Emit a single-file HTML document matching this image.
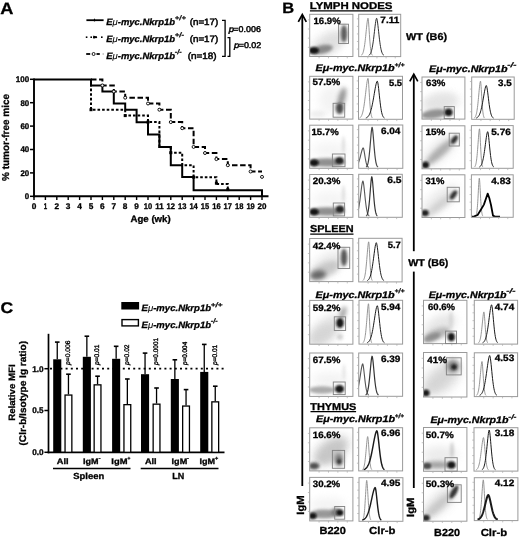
<!DOCTYPE html>
<html><head><meta charset="utf-8"><title>Figure</title>
<style>
html,body{margin:0;padding:0;background:#fff;width:520px;height:537px;overflow:hidden;}
svg{display:block;font-family:"Liberation Sans", sans-serif;text-rendering:geometricPrecision;will-change:transform;}
</style></head><body>
<svg width="520" height="537" viewBox="0 0 520 537" font-family='"Liberation Sans", sans-serif'>
<defs><clipPath id="c1"><rect x="309.7" y="14.3" width="43.20" height="42.20"/></clipPath><filter id="b0" x="-100%" y="-100%" width="300%" height="300%"><feGaussianBlur stdDeviation="4"/></filter><filter id="b1" x="-100%" y="-100%" width="300%" height="300%"><feGaussianBlur stdDeviation="3"/></filter><filter id="b2" x="-100%" y="-100%" width="300%" height="300%"><feGaussianBlur stdDeviation="1.8"/></filter><filter id="b3" x="-100%" y="-100%" width="300%" height="300%"><feGaussianBlur stdDeviation="1.2"/></filter><filter id="b4" x="-100%" y="-100%" width="300%" height="300%"><feGaussianBlur stdDeviation="1.5"/></filter><clipPath id="c2"><rect x="358.7" y="14.3" width="42.00" height="42.30"/></clipPath><clipPath id="c3"><rect x="309.7" y="76.3" width="43.20" height="42.80"/></clipPath><filter id="b5" x="-100%" y="-100%" width="300%" height="300%"><feGaussianBlur stdDeviation="2"/></filter><clipPath id="c4"><rect x="358.5" y="76.3" width="44.00" height="43.00"/></clipPath><clipPath id="c5"><rect x="309.7" y="125.2" width="43.20" height="43.10"/></clipPath><filter id="b6" x="-100%" y="-100%" width="300%" height="300%"><feGaussianBlur stdDeviation="1.0"/></filter><clipPath id="c6"><rect x="358.7" y="125.0" width="44.10" height="43.30"/></clipPath><clipPath id="c7"><rect x="309.7" y="174.5" width="43.20" height="42.80"/></clipPath><clipPath id="c8"><rect x="358.7" y="174.3" width="43.60" height="43.00"/></clipPath><clipPath id="c9"><rect x="309.7" y="238.5" width="43.20" height="43.10"/></clipPath><filter id="b7" x="-100%" y="-100%" width="300%" height="300%"><feGaussianBlur stdDeviation="2.5"/></filter><clipPath id="c10"><rect x="358.7" y="238.3" width="43.40" height="43.60"/></clipPath><clipPath id="c11"><rect x="309.7" y="300.4" width="43.20" height="43.80"/></clipPath><clipPath id="c12"><rect x="359.0" y="300.3" width="43.60" height="43.80"/></clipPath><clipPath id="c13"><rect x="309.7" y="353.0" width="43.20" height="43.40"/></clipPath><clipPath id="c14"><rect x="358.7" y="353.0" width="43.90" height="43.30"/></clipPath><clipPath id="c15"><rect x="309.7" y="427.8" width="43.20" height="43.10"/></clipPath><filter id="b8" x="-100%" y="-100%" width="300%" height="300%"><feGaussianBlur stdDeviation="1.4"/></filter><clipPath id="c16"><rect x="358.7" y="427.7" width="43.90" height="43.20"/></clipPath><clipPath id="c17"><rect x="309.7" y="477.4" width="43.20" height="43.50"/></clipPath><filter id="b9" x="-100%" y="-100%" width="300%" height="300%"><feGaussianBlur stdDeviation="1.1"/></filter><clipPath id="c18"><rect x="359.0" y="477.7" width="43.90" height="43.60"/></clipPath><clipPath id="c19"><rect x="422.0" y="77.0" width="42.90" height="42.10"/></clipPath><clipPath id="c20"><rect x="471.7" y="77.0" width="42.50" height="42.30"/></clipPath><clipPath id="c21"><rect x="422.0" y="125.8" width="42.90" height="43.00"/></clipPath><filter id="b10" x="-100%" y="-100%" width="300%" height="300%"><feGaussianBlur stdDeviation="2.2"/></filter><clipPath id="c22"><rect x="471.4" y="125.6" width="41.80" height="42.70"/></clipPath><clipPath id="c23"><rect x="422.0" y="174.8" width="42.90" height="42.70"/></clipPath><clipPath id="c24"><rect x="471.4" y="174.8" width="41.80" height="42.50"/></clipPath><clipPath id="c25"><rect x="423.5" y="300.3" width="43.40" height="43.30"/></clipPath><clipPath id="c26"><rect x="474.3" y="300.3" width="43.30" height="43.80"/></clipPath><clipPath id="c27"><rect x="423.5" y="352.5" width="43.40" height="44.50"/></clipPath><clipPath id="c28"><rect x="474.3" y="352.8" width="43.30" height="43.80"/></clipPath><clipPath id="c29"><rect x="423.5" y="427.5" width="43.40" height="43.80"/></clipPath><clipPath id="c30"><rect x="474.0" y="427.7" width="43.90" height="43.40"/></clipPath><clipPath id="c31"><rect x="423.5" y="477.6" width="43.40" height="43.60"/></clipPath><filter id="b11" x="-100%" y="-100%" width="300%" height="300%"><feGaussianBlur stdDeviation="1.3"/></filter><clipPath id="c32"><rect x="474.3" y="477.7" width="43.60" height="42.90"/></clipPath></defs>
<text x="0.17" y="13.50" font-size="16.5" font-weight="bold" font-style="normal" fill="#000" stroke="#000" stroke-width="0.3" textLength="13.15" lengthAdjust="spacingAndGlyphs">A</text>
<line x1="86.40" y1="20.20" x2="103.60" y2="20.20" stroke="#000" stroke-width="1.8" />
<line x1="94.50" y1="18.70" x2="94.50" y2="21.40" stroke="#000" stroke-width="1.2" />
<rect x="85.80" y="36.40" width="1.60" height="1.60" fill="#000" stroke="none" stroke-width="1" />
<rect x="90.40" y="36.40" width="1.60" height="1.60" fill="#000" stroke="none" stroke-width="1" />
<rect x="101.00" y="36.40" width="1.60" height="1.60" fill="#000" stroke="none" stroke-width="1" />
<path d="M93.5 35.6 L97.5 37.2 L93.5 38.800000000000004 Z" fill="#000"/>
<line x1="93.00" y1="37.20" x2="97.00" y2="37.20" stroke="#000" stroke-width="1.8" />
<line x1="86.20" y1="54.00" x2="90.20" y2="54.00" stroke="#000" stroke-width="1.8" />
<line x1="96.50" y1="54.00" x2="99.80" y2="54.00" stroke="#000" stroke-width="1.8" />
<circle cx="93.6" cy="54.0" r="1.5" fill="#fff" stroke="#000" stroke-width="0.9"/>
<line x1="102.50" y1="54.00" x2="104.00" y2="54.00" stroke="#bbb" stroke-width="1.4" />
<text x="106.24" y="24.90" font-size="9.2" font-weight="bold" font-style="italic" stroke="#000" stroke-width="0.3" textLength="68.82" lengthAdjust="spacingAndGlyphs">E<tspan font-weight="normal" stroke-width="0.1">&#956;</tspan>-myc.Nkrp1b</text>
<text x="174.84" y="20.30" font-size="6.6" font-weight="bold" font-style="italic" stroke="#000" stroke-width="0.21" textLength="11.03" lengthAdjust="spacingAndGlyphs">+/+</text>
<text x="106.24" y="41.50" font-size="9.2" font-weight="bold" font-style="italic" stroke="#000" stroke-width="0.3" textLength="68.82" lengthAdjust="spacingAndGlyphs">E<tspan font-weight="normal" stroke-width="0.1">&#956;</tspan>-myc.Nkrp1b</text>
<text x="174.84" y="36.90" font-size="6.6" font-weight="bold" font-style="italic" stroke="#000" stroke-width="0.21" textLength="9.23" lengthAdjust="spacingAndGlyphs">+/-</text>
<text x="106.24" y="58.50" font-size="9.2" font-weight="bold" font-style="italic" stroke="#000" stroke-width="0.3" textLength="68.82" lengthAdjust="spacingAndGlyphs">E<tspan font-weight="normal" stroke-width="0.1">&#956;</tspan>-myc.Nkrp1b</text>
<text x="174.84" y="53.90" font-size="6.6" font-weight="bold" font-style="italic" stroke="#000" stroke-width="0.21" textLength="6.93" lengthAdjust="spacingAndGlyphs">-/-</text>
<text x="189.74" y="24.90" font-size="9.2" font-weight="normal" font-style="normal" fill="#000" stroke="#000" stroke-width="0.5" textLength="28.52" lengthAdjust="spacingAndGlyphs">(n=17)</text>
<text x="189.74" y="41.50" font-size="9.2" font-weight="normal" font-style="normal" fill="#000" stroke="#000" stroke-width="0.5" textLength="28.52" lengthAdjust="spacingAndGlyphs">(n=17)</text>
<text x="187.74" y="58.50" font-size="9.2" font-weight="normal" font-style="normal" fill="#000" stroke="#000" stroke-width="0.5" textLength="28.92" lengthAdjust="spacingAndGlyphs">(n=18)</text>
<path d="M222 20.4 H225.1 V56.3 H222" fill="none" stroke="#000" stroke-width="1.3"/>
<path d="M227.5 37.7 H229.8 V56.3 H227.5" fill="none" stroke="#000" stroke-width="1.3"/>
<text x="228.68" y="31.90" font-size="8.4" font-weight="normal" font-style="italic" fill="#000" stroke="#000" stroke-width="0.45" textLength="5.34" lengthAdjust="spacingAndGlyphs">p</text>
<text x="233.38" y="31.90" font-size="8.4" font-weight="normal" font-style="normal" fill="#000" stroke="#000" stroke-width="0.45" textLength="27.54" lengthAdjust="spacingAndGlyphs">=0.006</text>
<text x="233.98" y="48.30" font-size="8.4" font-weight="normal" font-style="italic" fill="#000" stroke="#000" stroke-width="0.45" textLength="5.34" lengthAdjust="spacingAndGlyphs">p</text>
<text x="238.68" y="48.30" font-size="8.4" font-weight="normal" font-style="normal" fill="#000" stroke="#000" stroke-width="0.45" textLength="22.64" lengthAdjust="spacingAndGlyphs">=0.02</text>
<line x1="34.00" y1="78.60" x2="34.00" y2="197.30" stroke="#000" stroke-width="1.9" />
<line x1="33.00" y1="196.30" x2="268.50" y2="196.30" stroke="#000" stroke-width="1.9" />
<line x1="30.00" y1="196.30" x2="34.00" y2="196.30" stroke="#000" stroke-width="1.5" />
<text x="24.79" y="199.10" font-size="8.2" font-weight="bold" font-style="normal" fill="#000" stroke="#000" stroke-width="0.3" textLength="4.42" lengthAdjust="spacingAndGlyphs">0</text>
<line x1="30.00" y1="172.90" x2="34.00" y2="172.90" stroke="#000" stroke-width="1.5" />
<text x="20.39" y="175.70" font-size="8.2" font-weight="bold" font-style="normal" fill="#000" stroke="#000" stroke-width="0.3" textLength="8.82" lengthAdjust="spacingAndGlyphs">20</text>
<line x1="30.00" y1="149.50" x2="34.00" y2="149.50" stroke="#000" stroke-width="1.5" />
<text x="20.39" y="152.30" font-size="8.2" font-weight="bold" font-style="normal" fill="#000" stroke="#000" stroke-width="0.3" textLength="8.82" lengthAdjust="spacingAndGlyphs">40</text>
<line x1="30.00" y1="126.10" x2="34.00" y2="126.10" stroke="#000" stroke-width="1.5" />
<text x="20.39" y="128.90" font-size="8.2" font-weight="bold" font-style="normal" fill="#000" stroke="#000" stroke-width="0.3" textLength="8.82" lengthAdjust="spacingAndGlyphs">60</text>
<line x1="30.00" y1="102.70" x2="34.00" y2="102.70" stroke="#000" stroke-width="1.5" />
<text x="20.39" y="105.50" font-size="8.2" font-weight="bold" font-style="normal" fill="#000" stroke="#000" stroke-width="0.3" textLength="8.82" lengthAdjust="spacingAndGlyphs">80</text>
<line x1="30.00" y1="79.30" x2="34.00" y2="79.30" stroke="#000" stroke-width="1.5" />
<text x="15.79" y="82.10" font-size="8.2" font-weight="bold" font-style="normal" fill="#000" stroke="#000" stroke-width="0.3" textLength="13.42" lengthAdjust="spacingAndGlyphs">100</text>
<line x1="34.00" y1="196.30" x2="34.00" y2="200.00" stroke="#000" stroke-width="1.4" />
<text x="31.69" y="208.70" font-size="8.2" font-weight="bold" font-style="normal" fill="#000" stroke="#000" stroke-width="0.3" textLength="4.62" lengthAdjust="spacingAndGlyphs">0</text>
<line x1="45.40" y1="196.30" x2="45.40" y2="200.00" stroke="#000" stroke-width="1.4" />
<text x="43.69" y="208.70" font-size="8.2" font-weight="bold" font-style="normal" fill="#000" stroke="#000" stroke-width="0.3" textLength="3.42" lengthAdjust="spacingAndGlyphs">1</text>
<line x1="56.80" y1="196.30" x2="56.80" y2="200.00" stroke="#000" stroke-width="1.4" />
<text x="54.49" y="208.70" font-size="8.2" font-weight="bold" font-style="normal" fill="#000" stroke="#000" stroke-width="0.3" textLength="4.62" lengthAdjust="spacingAndGlyphs">2</text>
<line x1="68.20" y1="196.30" x2="68.20" y2="200.00" stroke="#000" stroke-width="1.4" />
<text x="65.89" y="208.70" font-size="8.2" font-weight="bold" font-style="normal" fill="#000" stroke="#000" stroke-width="0.3" textLength="4.62" lengthAdjust="spacingAndGlyphs">3</text>
<line x1="79.60" y1="196.30" x2="79.60" y2="200.00" stroke="#000" stroke-width="1.4" />
<text x="77.29" y="208.70" font-size="8.2" font-weight="bold" font-style="normal" fill="#000" stroke="#000" stroke-width="0.3" textLength="4.62" lengthAdjust="spacingAndGlyphs">4</text>
<line x1="91.00" y1="196.30" x2="91.00" y2="200.00" stroke="#000" stroke-width="1.4" />
<text x="88.69" y="208.70" font-size="8.2" font-weight="bold" font-style="normal" fill="#000" stroke="#000" stroke-width="0.3" textLength="4.62" lengthAdjust="spacingAndGlyphs">5</text>
<line x1="102.40" y1="196.30" x2="102.40" y2="200.00" stroke="#000" stroke-width="1.4" />
<text x="100.09" y="208.70" font-size="8.2" font-weight="bold" font-style="normal" fill="#000" stroke="#000" stroke-width="0.3" textLength="4.62" lengthAdjust="spacingAndGlyphs">6</text>
<line x1="113.80" y1="196.30" x2="113.80" y2="200.00" stroke="#000" stroke-width="1.4" />
<text x="111.49" y="208.70" font-size="8.2" font-weight="bold" font-style="normal" fill="#000" stroke="#000" stroke-width="0.3" textLength="4.62" lengthAdjust="spacingAndGlyphs">7</text>
<line x1="125.20" y1="196.30" x2="125.20" y2="200.00" stroke="#000" stroke-width="1.4" />
<text x="122.89" y="208.70" font-size="8.2" font-weight="bold" font-style="normal" fill="#000" stroke="#000" stroke-width="0.3" textLength="4.62" lengthAdjust="spacingAndGlyphs">8</text>
<line x1="136.60" y1="196.30" x2="136.60" y2="200.00" stroke="#000" stroke-width="1.4" />
<text x="134.29" y="208.70" font-size="8.2" font-weight="bold" font-style="normal" fill="#000" stroke="#000" stroke-width="0.3" textLength="4.62" lengthAdjust="spacingAndGlyphs">9</text>
<line x1="148.00" y1="196.30" x2="148.00" y2="200.00" stroke="#000" stroke-width="1.4" />
<text x="143.79" y="208.70" font-size="8.2" font-weight="bold" font-style="normal" fill="#000" stroke="#000" stroke-width="0.3" textLength="8.42" lengthAdjust="spacingAndGlyphs">10</text>
<line x1="159.40" y1="196.30" x2="159.40" y2="200.00" stroke="#000" stroke-width="1.4" />
<text x="155.19" y="208.70" font-size="8.2" font-weight="bold" font-style="normal" fill="#000" stroke="#000" stroke-width="0.3" textLength="8.42" lengthAdjust="spacingAndGlyphs">11</text>
<line x1="170.80" y1="196.30" x2="170.80" y2="200.00" stroke="#000" stroke-width="1.4" />
<text x="166.59" y="208.70" font-size="8.2" font-weight="bold" font-style="normal" fill="#000" stroke="#000" stroke-width="0.3" textLength="8.42" lengthAdjust="spacingAndGlyphs">12</text>
<line x1="182.20" y1="196.30" x2="182.20" y2="200.00" stroke="#000" stroke-width="1.4" />
<text x="177.99" y="208.70" font-size="8.2" font-weight="bold" font-style="normal" fill="#000" stroke="#000" stroke-width="0.3" textLength="8.42" lengthAdjust="spacingAndGlyphs">13</text>
<line x1="193.60" y1="196.30" x2="193.60" y2="200.00" stroke="#000" stroke-width="1.4" />
<text x="189.39" y="208.70" font-size="8.2" font-weight="bold" font-style="normal" fill="#000" stroke="#000" stroke-width="0.3" textLength="8.42" lengthAdjust="spacingAndGlyphs">14</text>
<line x1="205.00" y1="196.30" x2="205.00" y2="200.00" stroke="#000" stroke-width="1.4" />
<text x="200.79" y="208.70" font-size="8.2" font-weight="bold" font-style="normal" fill="#000" stroke="#000" stroke-width="0.3" textLength="8.42" lengthAdjust="spacingAndGlyphs">15</text>
<line x1="216.40" y1="196.30" x2="216.40" y2="200.00" stroke="#000" stroke-width="1.4" />
<text x="212.19" y="208.70" font-size="8.2" font-weight="bold" font-style="normal" fill="#000" stroke="#000" stroke-width="0.3" textLength="8.42" lengthAdjust="spacingAndGlyphs">16</text>
<line x1="227.80" y1="196.30" x2="227.80" y2="200.00" stroke="#000" stroke-width="1.4" />
<text x="223.59" y="208.70" font-size="8.2" font-weight="bold" font-style="normal" fill="#000" stroke="#000" stroke-width="0.3" textLength="8.42" lengthAdjust="spacingAndGlyphs">17</text>
<line x1="239.20" y1="196.30" x2="239.20" y2="200.00" stroke="#000" stroke-width="1.4" />
<text x="234.99" y="208.70" font-size="8.2" font-weight="bold" font-style="normal" fill="#000" stroke="#000" stroke-width="0.3" textLength="8.42" lengthAdjust="spacingAndGlyphs">18</text>
<line x1="250.60" y1="196.30" x2="250.60" y2="200.00" stroke="#000" stroke-width="1.4" />
<text x="246.39" y="208.70" font-size="8.2" font-weight="bold" font-style="normal" fill="#000" stroke="#000" stroke-width="0.3" textLength="8.42" lengthAdjust="spacingAndGlyphs">19</text>
<line x1="262.00" y1="196.30" x2="262.00" y2="200.00" stroke="#000" stroke-width="1.4" />
<text x="257.54" y="208.70" font-size="8.2" font-weight="bold" font-style="normal" fill="#000" stroke="#000" stroke-width="0.3" textLength="8.92" lengthAdjust="spacingAndGlyphs">20</text>
<text x="130.53" y="221.70" font-size="9.3" font-weight="bold" font-style="normal" fill="#000" stroke="#000" stroke-width="0.3" textLength="40.13" lengthAdjust="spacingAndGlyphs">Age (wk)</text>
<text transform="translate(8.70,180.90) rotate(-90)" x="0" y="0" font-size="10" font-weight="bold" font-style="normal" stroke="#000" stroke-width="0.3" textLength="86.90" lengthAdjust="spacingAndGlyphs">% tumor-free mice</text>
<path d="M34.00 79.40 L91.00 79.40 L91.00 85.40 L102.40 85.40 L102.40 91.50 L113.80 91.50 L113.80 103.50 L125.20 103.50 L125.20 109.70 L136.60 109.70 L136.60 122.20 L148.00 122.20 L148.00 134.40 L159.40 134.40 L159.40 146.90 L170.80 146.90 L170.80 165.30 L182.20 165.30 L182.20 177.00 L193.60 177.00 L193.60 190.20 L262.00 190.20 L262.00 196.00" fill="none" stroke="#000" stroke-width="2"/>
<path d="M91.00 79.40 L91.00 109.70 L125.20 109.70 L125.20 115.60 L148.00 115.60 L148.00 122.10 L159.40 122.10 L159.40 146.90 L170.80 146.90 L170.80 152.70 L182.20 152.70 L182.20 165.30 L193.60 165.30 L193.60 177.20 L216.40 177.20 L216.40 183.90 L227.80 183.90 L227.80 190.20" fill="none" stroke="#000" stroke-width="2" stroke-dasharray="2.6 2"/>
<rect x="89.50" y="108.20" width="3.00" height="3.00" fill="#000" stroke="none" stroke-width="1" />
<rect x="123.70" y="114.10" width="3.00" height="3.00" fill="#000" stroke="none" stroke-width="1" />
<rect x="146.50" y="120.60" width="3.00" height="3.00" fill="#000" stroke="none" stroke-width="1" />
<rect x="169.30" y="151.20" width="3.00" height="3.00" fill="#000" stroke="none" stroke-width="1" />
<rect x="192.10" y="175.70" width="3.00" height="3.00" fill="#000" stroke="none" stroke-width="1" />
<rect x="214.90" y="181.70" width="3.00" height="3.00" fill="#000" stroke="none" stroke-width="1" />
<rect x="226.30" y="188.10" width="3.00" height="3.00" fill="#000" stroke="none" stroke-width="1" />
<path d="M91.00 79.40 L102.40 79.40 L102.40 85.40 L113.80 85.40 L113.80 91.50 L125.20 91.50 L125.20 97.70 L148.00 97.70 L148.00 103.50 L159.40 103.50 L159.40 109.70 L170.80 109.70 L170.80 122.10 L182.20 122.10 L182.20 128.20 L193.60 128.20 L193.60 146.90 L205.00 146.90 L205.00 153.00 L216.40 153.00 L216.40 159.10 L227.80 159.10 L227.80 165.20 L250.60 165.20 L250.60 171.50 L262.00 171.50" fill="none" stroke="#000" stroke-width="2" stroke-dasharray="5.5 2.6"/>
<circle cx="102.40" cy="85.40" r="1.5" fill="#fff" stroke="#000" stroke-width="0.9"/>
<circle cx="113.80" cy="91.50" r="1.5" fill="#fff" stroke="#000" stroke-width="0.9"/>
<circle cx="125.20" cy="97.70" r="1.5" fill="#fff" stroke="#000" stroke-width="0.9"/>
<circle cx="148.00" cy="103.50" r="1.5" fill="#fff" stroke="#000" stroke-width="0.9"/>
<circle cx="159.40" cy="109.70" r="1.5" fill="#fff" stroke="#000" stroke-width="0.9"/>
<circle cx="170.80" cy="122.10" r="1.5" fill="#fff" stroke="#000" stroke-width="0.9"/>
<circle cx="182.20" cy="128.20" r="1.5" fill="#fff" stroke="#000" stroke-width="0.9"/>
<circle cx="193.60" cy="146.90" r="1.5" fill="#fff" stroke="#000" stroke-width="0.9"/>
<circle cx="205.00" cy="153.00" r="1.5" fill="#fff" stroke="#000" stroke-width="0.9"/>
<circle cx="216.40" cy="159.10" r="1.5" fill="#fff" stroke="#000" stroke-width="0.9"/>
<circle cx="227.80" cy="165.20" r="1.5" fill="#fff" stroke="#000" stroke-width="0.9"/>
<circle cx="250.60" cy="171.50" r="1.5" fill="#fff" stroke="#000" stroke-width="0.9"/>
<circle cx="262.00" cy="176.90" r="1.5" fill="#fff" stroke="#000" stroke-width="0.9"/>
<text x="0.42" y="313.20" font-size="15.5" font-weight="bold" font-style="normal" fill="#000" stroke="#000" stroke-width="0.3" textLength="12.65" lengthAdjust="spacingAndGlyphs">C</text>
<rect x="121.30" y="302.00" width="17.80" height="7.50" fill="#000" stroke="none" stroke-width="1" />
<rect x="122.00" y="319.60" width="16.40" height="6.30" fill="#fff" stroke="#000" stroke-width="1.4" />
<text x="141.54" y="311.40" font-size="9.2" font-weight="bold" font-style="italic" stroke="#000" stroke-width="0.3" textLength="69.52" lengthAdjust="spacingAndGlyphs">E<tspan font-weight="normal" stroke-width="0.1">&#956;</tspan>-myc.Nkrp1b</text>
<text x="210.84" y="306.80" font-size="6.6" font-weight="bold" font-style="italic" stroke="#000" stroke-width="0.21" textLength="11.73" lengthAdjust="spacingAndGlyphs">+/+</text>
<text x="141.54" y="327.70" font-size="9.2" font-weight="bold" font-style="italic" stroke="#000" stroke-width="0.3" textLength="69.52" lengthAdjust="spacingAndGlyphs">E<tspan font-weight="normal" stroke-width="0.1">&#956;</tspan>-myc.Nkrp1b</text>
<text x="210.84" y="323.10" font-size="6.6" font-weight="bold" font-style="italic" stroke="#000" stroke-width="0.21" textLength="6.93" lengthAdjust="spacingAndGlyphs">-/-</text>
<line x1="50.00" y1="368.70" x2="226.00" y2="368.70" stroke="#000" stroke-width="1.7" stroke-dasharray="2 3.2"/>
<line x1="48.50" y1="333.80" x2="48.50" y2="453.30" stroke="#000" stroke-width="1.7" />
<line x1="44.40" y1="452.30" x2="48.50" y2="452.30" stroke="#000" stroke-width="1.5" />
<text x="32.19" y="455.20" font-size="8.3" font-weight="bold" font-style="normal" fill="#000" stroke="#000" stroke-width="0.3" textLength="11.43" lengthAdjust="spacingAndGlyphs">0.0</text>
<line x1="44.40" y1="410.50" x2="48.50" y2="410.50" stroke="#000" stroke-width="1.5" />
<text x="32.19" y="413.40" font-size="8.3" font-weight="bold" font-style="normal" fill="#000" stroke="#000" stroke-width="0.3" textLength="11.43" lengthAdjust="spacingAndGlyphs">0.5</text>
<line x1="44.40" y1="368.70" x2="48.50" y2="368.70" stroke="#000" stroke-width="1.5" />
<text x="32.19" y="371.60" font-size="8.3" font-weight="bold" font-style="normal" fill="#000" stroke="#000" stroke-width="0.3" textLength="11.43" lengthAdjust="spacingAndGlyphs">1.0</text>
<line x1="47.60" y1="452.30" x2="224.50" y2="452.30" stroke="#000" stroke-width="1.8" />
<line x1="57.25" y1="359.30" x2="57.25" y2="342.10" stroke="#000" stroke-width="1.3" />
<line x1="54.95" y1="342.10" x2="59.55" y2="342.10" stroke="#000" stroke-width="1.6" />
<rect x="53.20" y="359.30" width="8.10" height="93.00" fill="#000" stroke="none" stroke-width="1" />
<line x1="68.45" y1="394.40" x2="68.45" y2="374.20" stroke="#000" stroke-width="1.3" />
<line x1="66.15" y1="374.20" x2="70.75" y2="374.20" stroke="#000" stroke-width="1.6" />
<rect x="65.05" y="395.05" width="6.80" height="57.25" fill="#fff" stroke="#000" stroke-width="1.3" />
<text transform="translate(69.80,365.0) rotate(-90)" font-size="6.6" stroke="#000" stroke-width="0.35" textLength="24.50" lengthAdjust="spacingAndGlyphs"><tspan font-style="italic">p</tspan>=0.006</text>
<line x1="86.85" y1="356.80" x2="86.85" y2="336.20" stroke="#000" stroke-width="1.3" />
<line x1="84.55" y1="336.20" x2="89.15" y2="336.20" stroke="#000" stroke-width="1.6" />
<rect x="82.80" y="356.80" width="8.10" height="95.50" fill="#000" stroke="none" stroke-width="1" />
<line x1="97.55" y1="384.20" x2="97.55" y2="376.20" stroke="#000" stroke-width="1.3" />
<line x1="95.25" y1="376.20" x2="99.85" y2="376.20" stroke="#000" stroke-width="1.6" />
<rect x="94.15" y="384.85" width="6.80" height="67.45" fill="#fff" stroke="#000" stroke-width="1.3" />
<text transform="translate(98.90,365.0) rotate(-90)" font-size="6.6" stroke="#000" stroke-width="0.35" textLength="20.40" lengthAdjust="spacingAndGlyphs"><tspan font-style="italic">p</tspan>=0.01</text>
<line x1="116.15" y1="358.80" x2="116.15" y2="346.30" stroke="#000" stroke-width="1.3" />
<line x1="113.85" y1="346.30" x2="118.45" y2="346.30" stroke="#000" stroke-width="1.6" />
<rect x="112.10" y="358.80" width="8.10" height="93.50" fill="#000" stroke="none" stroke-width="1" />
<line x1="127.35" y1="404.00" x2="127.35" y2="379.00" stroke="#000" stroke-width="1.3" />
<line x1="125.05" y1="379.00" x2="129.65" y2="379.00" stroke="#000" stroke-width="1.6" />
<rect x="123.95" y="404.65" width="6.80" height="47.65" fill="#fff" stroke="#000" stroke-width="1.3" />
<text transform="translate(128.70,365.0) rotate(-90)" font-size="6.6" stroke="#000" stroke-width="0.35" textLength="20.60" lengthAdjust="spacingAndGlyphs"><tspan font-style="italic">p</tspan>=0.02</text>
<line x1="145.05" y1="374.20" x2="145.05" y2="353.10" stroke="#000" stroke-width="1.3" />
<line x1="142.75" y1="353.10" x2="147.35" y2="353.10" stroke="#000" stroke-width="1.6" />
<rect x="141.00" y="374.20" width="8.10" height="78.10" fill="#000" stroke="none" stroke-width="1" />
<line x1="156.55" y1="403.50" x2="156.55" y2="388.00" stroke="#000" stroke-width="1.3" />
<line x1="154.25" y1="388.00" x2="158.85" y2="388.00" stroke="#000" stroke-width="1.6" />
<rect x="153.15" y="404.15" width="6.80" height="48.15" fill="#fff" stroke="#000" stroke-width="1.3" />
<text transform="translate(157.90,365.0) rotate(-90)" font-size="6.6" stroke="#000" stroke-width="0.35" textLength="27.20" lengthAdjust="spacingAndGlyphs"><tspan font-style="italic">p</tspan>=0.0001</text>
<line x1="174.85" y1="379.00" x2="174.85" y2="359.80" stroke="#000" stroke-width="1.3" />
<line x1="172.55" y1="359.80" x2="177.15" y2="359.80" stroke="#000" stroke-width="1.6" />
<rect x="170.80" y="379.00" width="8.10" height="73.30" fill="#000" stroke="none" stroke-width="1" />
<line x1="186.05" y1="405.40" x2="186.05" y2="389.60" stroke="#000" stroke-width="1.3" />
<line x1="183.75" y1="389.60" x2="188.35" y2="389.60" stroke="#000" stroke-width="1.6" />
<rect x="182.65" y="406.05" width="6.80" height="46.25" fill="#fff" stroke="#000" stroke-width="1.3" />
<text transform="translate(187.40,365.0) rotate(-90)" font-size="6.6" stroke="#000" stroke-width="0.35" textLength="23.20" lengthAdjust="spacingAndGlyphs"><tspan font-style="italic">p</tspan>=0.004</text>
<line x1="204.25" y1="371.90" x2="204.25" y2="344.40" stroke="#000" stroke-width="1.3" />
<line x1="201.95" y1="344.40" x2="206.55" y2="344.40" stroke="#000" stroke-width="1.6" />
<rect x="200.20" y="371.90" width="8.10" height="80.40" fill="#000" stroke="none" stroke-width="1" />
<line x1="215.25" y1="401.20" x2="215.25" y2="386.20" stroke="#000" stroke-width="1.3" />
<line x1="212.95" y1="386.20" x2="217.55" y2="386.20" stroke="#000" stroke-width="1.6" />
<rect x="211.85" y="401.85" width="6.80" height="50.45" fill="#fff" stroke="#000" stroke-width="1.3" />
<text transform="translate(216.60,365.0) rotate(-90)" font-size="6.6" stroke="#000" stroke-width="0.35" textLength="20.20" lengthAdjust="spacingAndGlyphs"><tspan font-style="italic">p</tspan>=0.01</text>
<text x="56.80" y="463.80" font-size="8.1" font-weight="bold" font-style="normal" fill="#000" stroke="#000" stroke-width="0.3" textLength="11.81" lengthAdjust="spacingAndGlyphs">All</text>
<text x="83.09" y="463.80" font-size="8.1" font-weight="bold" font-style="normal" fill="#000" stroke="#000" stroke-width="0.3" textLength="15.51" lengthAdjust="spacingAndGlyphs">IgM</text>
<text x="98.54" y="459.60" font-size="5.2" font-weight="bold" font-style="normal" fill="#000" stroke="#000" stroke-width="0.3" textLength="2.12" lengthAdjust="spacingAndGlyphs">-</text>
<text x="111.39" y="463.80" font-size="8.1" font-weight="bold" font-style="normal" fill="#000" stroke="#000" stroke-width="0.3" textLength="16.11" lengthAdjust="spacingAndGlyphs">IgM</text>
<text x="127.44" y="460.00" font-size="5.2" font-weight="bold" font-style="normal" fill="#000" stroke="#000" stroke-width="0.3" textLength="2.82" lengthAdjust="spacingAndGlyphs">+</text>
<text x="144.90" y="463.80" font-size="8.1" font-weight="bold" font-style="normal" fill="#000" stroke="#000" stroke-width="0.3" textLength="11.71" lengthAdjust="spacingAndGlyphs">All</text>
<text x="171.59" y="463.80" font-size="8.1" font-weight="bold" font-style="normal" fill="#000" stroke="#000" stroke-width="0.3" textLength="15.61" lengthAdjust="spacingAndGlyphs">IgM</text>
<text x="187.14" y="459.60" font-size="5.2" font-weight="bold" font-style="normal" fill="#000" stroke="#000" stroke-width="0.3" textLength="1.92" lengthAdjust="spacingAndGlyphs">-</text>
<text x="199.50" y="463.80" font-size="8.1" font-weight="bold" font-style="normal" fill="#000" stroke="#000" stroke-width="0.3" textLength="15.61" lengthAdjust="spacingAndGlyphs">IgM</text>
<text x="215.04" y="460.00" font-size="5.2" font-weight="bold" font-style="normal" fill="#000" stroke="#000" stroke-width="0.3" textLength="3.22" lengthAdjust="spacingAndGlyphs">+</text>
<line x1="53.00" y1="468.50" x2="130.50" y2="468.50" stroke="#000" stroke-width="1.6" />
<line x1="140.70" y1="468.50" x2="218.50" y2="468.50" stroke="#000" stroke-width="1.6" />
<text x="73.26" y="478.90" font-size="8.8" font-weight="bold" font-style="normal" fill="#000" stroke="#000" stroke-width="0.3" textLength="30.88" lengthAdjust="spacingAndGlyphs">Spleen</text>
<text x="172.16" y="479.00" font-size="8.8" font-weight="bold" font-style="normal" fill="#000" stroke="#000" stroke-width="0.3" textLength="11.98" lengthAdjust="spacingAndGlyphs">LN</text>
<text transform="translate(14.60,420.86) rotate(-90)" x="0" y="0" font-size="9.2" font-weight="bold" font-style="normal" stroke="#000" stroke-width="0.3" textLength="56.52" lengthAdjust="spacingAndGlyphs">Relative MFI</text>
<text transform="translate(26.40,445.48) rotate(-90)" x="0" y="0" font-size="9.6" font-weight="bold" font-style="normal" stroke="#000" stroke-width="0.3" textLength="104.46" lengthAdjust="spacingAndGlyphs">(Clr-b/Isotype Ig ratio)</text>
<text x="282.15" y="12.50" font-size="15" font-weight="bold" font-style="normal" fill="#000" stroke="#000" stroke-width="0.3" textLength="11.90" lengthAdjust="spacingAndGlyphs">B</text>
<text x="309.71" y="8.70" font-size="9.8" font-weight="bold" font-style="normal" fill="#000" stroke="#000" stroke-width="0.3" textLength="82.78" lengthAdjust="spacingAndGlyphs">LYMPH NODES</text>
<line x1="309.90" y1="10.80" x2="392.30" y2="10.80" stroke="#000" stroke-width="1.3" />
<text x="310.00" y="232.40" font-size="10" font-weight="bold" font-style="normal" fill="#000" stroke="#000" stroke-width="0.3" textLength="43.70" lengthAdjust="spacingAndGlyphs">SPLEEN</text>
<line x1="310.20" y1="234.20" x2="353.50" y2="234.20" stroke="#000" stroke-width="1.3" />
<text x="310.31" y="410.10" font-size="9.8" font-weight="bold" font-style="normal" fill="#000" stroke="#000" stroke-width="0.3" textLength="45.98" lengthAdjust="spacingAndGlyphs">THYMUS</text>
<line x1="310.50" y1="411.60" x2="356.10" y2="411.60" stroke="#000" stroke-width="1.3" />
<line x1="302.30" y1="15.20" x2="302.30" y2="486.00" stroke="#000" stroke-width="1.8" />
<path d="M298.30 21.80 L302.30 14.60 L306.30 21.80" fill="none" stroke="#000" stroke-width="1.7" stroke-linejoin="miter"/>
<line x1="413.80" y1="74.80" x2="413.80" y2="488.00" stroke="#000" stroke-width="1.8" />
<path d="M409.80 81.40 L413.80 74.20 L417.80 81.40" fill="none" stroke="#000" stroke-width="1.7" stroke-linejoin="miter"/>
<rect x="410.00" y="251.20" width="10.00" height="20.40" fill="#fff" stroke="none" stroke-width="1" />
<text x="406.10" y="39.90" font-size="10" font-weight="bold" font-style="normal" fill="#000" stroke="#000" stroke-width="0.3" textLength="41.00" lengthAdjust="spacingAndGlyphs">WT (B6)</text>
<text x="408.20" y="265.60" font-size="10" font-weight="bold" font-style="normal" fill="#000" stroke="#000" stroke-width="0.3" textLength="40.20" lengthAdjust="spacingAndGlyphs">WT (B6)</text>
<text x="315.62" y="71.30" font-size="9.6" font-weight="bold" font-style="italic" stroke="#000" stroke-width="0.3" textLength="79.06" lengthAdjust="spacingAndGlyphs">E&#956;-myc.Nkrp1b</text>
<text x="394.44" y="66.70" font-size="6.6" font-weight="bold" font-style="italic" stroke="#000" stroke-width="0.21" textLength="10.13" lengthAdjust="spacingAndGlyphs">+/+</text>
<text x="429.02" y="71.80" font-size="9.6" font-weight="bold" font-style="italic" stroke="#000" stroke-width="0.3" textLength="78.56" lengthAdjust="spacingAndGlyphs">E&#956;-myc.Nkrp1b</text>
<text x="507.34" y="67.20" font-size="6.6" font-weight="bold" font-style="italic" stroke="#000" stroke-width="0.21" textLength="9.23" lengthAdjust="spacingAndGlyphs">-/-</text>
<text x="315.62" y="297.80" font-size="9.6" font-weight="bold" font-style="italic" stroke="#000" stroke-width="0.3" textLength="79.06" lengthAdjust="spacingAndGlyphs">E&#956;-myc.Nkrp1b</text>
<text x="394.44" y="293.20" font-size="6.6" font-weight="bold" font-style="italic" stroke="#000" stroke-width="0.21" textLength="10.13" lengthAdjust="spacingAndGlyphs">+/+</text>
<text x="428.72" y="297.80" font-size="9.6" font-weight="bold" font-style="italic" stroke="#000" stroke-width="0.3" textLength="77.86" lengthAdjust="spacingAndGlyphs">E&#956;-myc.Nkrp1b</text>
<text x="506.34" y="293.20" font-size="6.6" font-weight="bold" font-style="italic" stroke="#000" stroke-width="0.21" textLength="9.33" lengthAdjust="spacingAndGlyphs">-/-</text>
<text x="316.12" y="422.40" font-size="9.6" font-weight="bold" font-style="italic" stroke="#000" stroke-width="0.3" textLength="78.86" lengthAdjust="spacingAndGlyphs">E&#956;-myc.Nkrp1b</text>
<text x="394.74" y="417.80" font-size="6.6" font-weight="bold" font-style="italic" stroke="#000" stroke-width="0.21" textLength="9.23" lengthAdjust="spacingAndGlyphs">+/+</text>
<text x="430.52" y="423.10" font-size="9.6" font-weight="bold" font-style="italic" stroke="#000" stroke-width="0.3" textLength="77.96" lengthAdjust="spacingAndGlyphs">E&#956;-myc.Nkrp1b</text>
<text x="508.24" y="418.50" font-size="6.6" font-weight="bold" font-style="italic" stroke="#000" stroke-width="0.21" textLength="8.33" lengthAdjust="spacingAndGlyphs">-/-</text>
<text transform="translate(303.80,514.72) rotate(-90)" x="0" y="0" font-size="10.4" font-weight="bold" font-style="normal" stroke="#000" stroke-width="0.3" textLength="19.44" lengthAdjust="spacingAndGlyphs">IgM</text>
<text transform="translate(414.00,517.02) rotate(-90)" x="0" y="0" font-size="10.4" font-weight="bold" font-style="normal" stroke="#000" stroke-width="0.3" textLength="19.54" lengthAdjust="spacingAndGlyphs">IgM</text>
<text x="319.49" y="534.30" font-size="10.3" font-weight="bold" font-style="normal" fill="#000" stroke="#000" stroke-width="0.3" textLength="26.43" lengthAdjust="spacingAndGlyphs">B220</text>
<text x="369.09" y="534.30" font-size="10.3" font-weight="bold" font-style="normal" fill="#000" stroke="#000" stroke-width="0.3" textLength="26.43" lengthAdjust="spacingAndGlyphs">Clr-b</text>
<text x="434.09" y="536.20" font-size="10.3" font-weight="bold" font-style="normal" fill="#000" stroke="#000" stroke-width="0.3" textLength="25.93" lengthAdjust="spacingAndGlyphs">B220</text>
<text x="480.69" y="536.00" font-size="10.3" font-weight="bold" font-style="normal" fill="#000" stroke="#000" stroke-width="0.3" textLength="26.43" lengthAdjust="spacingAndGlyphs">Clr-b</text>
<g clip-path="url(#c1)">
<ellipse cx="328.00" cy="42.00" rx="20.00" ry="10.00" transform="rotate(-32 328.00 42.00)" fill="rgb(228,228,228)" opacity="0.7" filter="url(#b0)"/>
<ellipse cx="330.00" cy="44.00" rx="16.00" ry="9.00" transform="rotate(-30 330.00 44.00)" fill="rgb(215,215,215)" opacity="0.6" filter="url(#b1)"/>
<ellipse cx="322.00" cy="49.50" rx="11.00" ry="4.20" transform="rotate(-12 322.00 49.50)" fill="rgb(115,115,115)" opacity="0.8" filter="url(#b2)"/>
<ellipse cx="313.50" cy="50.50" rx="5.50" ry="3.60" transform="rotate(0 313.50 50.50)" fill="rgb(10,10,10)" opacity="0.95" filter="url(#b3)"/>
<ellipse cx="344.00" cy="33.50" rx="3.20" ry="8.80" transform="rotate(0 344.00 33.50)" fill="rgb(70,70,70)" opacity="0.88" filter="url(#b4)"/>
</g>
<rect x="309.70" y="14.30" width="43.20" height="42.20" fill="none" stroke="#9a9a9a" stroke-width="1.0" />
<line x1="307.90" y1="47.33" x2="309.70" y2="47.33" stroke="#aaa" stroke-width="0.7"/><line x1="307.90" y1="38.15" x2="309.70" y2="38.15" stroke="#aaa" stroke-width="0.7"/><line x1="307.90" y1="28.98" x2="309.70" y2="28.98" stroke="#aaa" stroke-width="0.7"/><line x1="307.90" y1="19.80" x2="309.70" y2="19.80" stroke="#aaa" stroke-width="0.7"/><line x1="319.09" y1="56.50" x2="319.09" y2="58.30" stroke="#aaa" stroke-width="0.7"/><line x1="328.48" y1="56.50" x2="328.48" y2="58.30" stroke="#aaa" stroke-width="0.7"/><line x1="337.87" y1="56.50" x2="337.87" y2="58.30" stroke="#aaa" stroke-width="0.7"/><line x1="347.27" y1="56.50" x2="347.27" y2="58.30" stroke="#aaa" stroke-width="0.7"/>
<rect x="338.60" y="24.20" width="9.90" height="19.30" fill="none" stroke="#858585" stroke-width="0.95" />
<text x="313.54" y="24.00" font-size="9.2" font-weight="bold" font-style="normal" fill="#000" stroke="#000" stroke-width="0.3" textLength="27.22" lengthAdjust="spacingAndGlyphs">16.9%</text>
<g clip-path="url(#c2)">
<path d="M361.20 55.37 L361.43 55.21 L361.67 55.02 L361.90 54.78 L362.14 54.49 L362.37 54.13 L362.61 53.69 L362.84 53.17 L363.08 52.55 L363.31 51.81 L363.54 50.95 L363.78 49.96 L364.01 48.81 L364.25 47.52 L364.48 46.06 L364.72 44.43 L364.95 42.65 L365.19 40.71 L365.42 38.62 L365.66 36.42 L365.89 34.13 L366.12 31.79 L366.36 29.43 L366.59 27.13 L366.83 24.92 L367.06 22.89 L367.30 21.11 L367.53 19.66 L367.77 18.64 L368.00 18.20 L368.23 19.12 L368.47 21.20 L368.70 24.04 L368.94 27.36 L369.17 30.92 L369.41 34.50 L369.64 37.94 L369.88 41.13 L370.11 43.98 L370.34 46.46 L370.58 48.55 L370.81 50.29 L371.05 51.68 L371.28 52.79 L371.52 53.64 L371.75 54.29 L371.99 54.77 L372.22 55.12 L372.46 55.37" fill="none" stroke="#8a8a8a" stroke-width="0.9" stroke-linejoin="round"/>
<path d="M368.74 55.37 L369.06 55.18 L369.38 54.94 L369.70 54.64 L370.01 54.25 L370.33 53.76 L370.65 53.15 L370.97 52.40 L371.29 51.50 L371.60 50.42 L371.92 49.15 L372.24 47.66 L372.56 45.95 L372.87 44.02 L373.19 41.87 L373.51 39.51 L373.83 36.97 L374.14 34.30 L374.46 31.55 L374.78 28.80 L375.10 26.13 L375.41 23.64 L375.73 21.46 L376.05 19.71 L376.37 18.54 L376.68 18.26 L377.00 19.17 L377.32 20.82 L377.64 23.02 L377.95 25.60 L378.27 28.41 L378.59 31.33 L378.91 34.26 L379.22 37.09 L379.54 39.78 L379.86 42.26 L380.18 44.50 L380.49 46.49 L380.81 48.23 L381.13 49.72 L381.45 50.98 L381.76 52.02 L382.08 52.88 L382.40 53.58 L382.72 54.13 L383.03 54.57 L383.35 54.91 L383.67 55.17 L383.99 55.37" fill="none" stroke="#1a1a1a" stroke-width="0.9" stroke-linejoin="round"/>
</g>
<rect x="358.70" y="14.30" width="42.00" height="42.30" fill="none" stroke="#9a9a9a" stroke-width="1.0" />
<line x1="356.90" y1="49.05" x2="358.70" y2="49.05" stroke="#aaa" stroke-width="0.7"/><line x1="356.90" y1="41.49" x2="358.70" y2="41.49" stroke="#aaa" stroke-width="0.7"/><line x1="356.90" y1="33.94" x2="358.70" y2="33.94" stroke="#aaa" stroke-width="0.7"/><line x1="356.90" y1="26.39" x2="358.70" y2="26.39" stroke="#aaa" stroke-width="0.7"/><line x1="356.90" y1="18.83" x2="358.70" y2="18.83" stroke="#aaa" stroke-width="0.7"/><line x1="367.83" y1="56.60" x2="367.83" y2="58.40" stroke="#aaa" stroke-width="0.7"/><line x1="376.96" y1="56.60" x2="376.96" y2="58.40" stroke="#aaa" stroke-width="0.7"/><line x1="386.09" y1="56.60" x2="386.09" y2="58.40" stroke="#aaa" stroke-width="0.7"/><line x1="395.22" y1="56.60" x2="395.22" y2="58.40" stroke="#aaa" stroke-width="0.7"/>
<text x="380.34" y="23.20" font-size="9.2" font-weight="bold" font-style="normal" fill="#000" stroke="#000" stroke-width="0.3" textLength="18.92" lengthAdjust="spacingAndGlyphs">7.11</text>
<g clip-path="url(#c3)">
<ellipse cx="333.00" cy="100.00" rx="14.00" ry="14.00" transform="rotate(0 333.00 100.00)" fill="rgb(235,235,235)" opacity="0.6" filter="url(#b0)"/>
<ellipse cx="318.00" cy="114.00" rx="8.00" ry="3.50" transform="rotate(0 318.00 114.00)" fill="rgb(220,220,220)" opacity="0.5" filter="url(#b5)"/>
<ellipse cx="341.80" cy="98.00" rx="3.40" ry="11.00" transform="rotate(15 341.80 98.00)" fill="rgb(115,115,115)" opacity="0.75" filter="url(#b5)"/>
<ellipse cx="339.60" cy="108.50" rx="3.80" ry="5.50" transform="rotate(0 339.60 108.50)" fill="rgb(55,55,55)" opacity="0.9" filter="url(#b4)"/>
</g>
<rect x="309.70" y="76.30" width="43.20" height="42.80" fill="none" stroke="#9a9a9a" stroke-width="1.0" />
<line x1="307.90" y1="109.80" x2="309.70" y2="109.80" stroke="#aaa" stroke-width="0.7"/><line x1="307.90" y1="100.49" x2="309.70" y2="100.49" stroke="#aaa" stroke-width="0.7"/><line x1="307.90" y1="91.19" x2="309.70" y2="91.19" stroke="#aaa" stroke-width="0.7"/><line x1="307.90" y1="81.88" x2="309.70" y2="81.88" stroke="#aaa" stroke-width="0.7"/><line x1="319.09" y1="119.10" x2="319.09" y2="120.90" stroke="#aaa" stroke-width="0.7"/><line x1="328.48" y1="119.10" x2="328.48" y2="120.90" stroke="#aaa" stroke-width="0.7"/><line x1="337.87" y1="119.10" x2="337.87" y2="120.90" stroke="#aaa" stroke-width="0.7"/><line x1="347.27" y1="119.10" x2="347.27" y2="120.90" stroke="#aaa" stroke-width="0.7"/>
<rect x="333.10" y="103.30" width="11.60" height="13.90" fill="none" stroke="#858585" stroke-width="0.95" />
<text x="312.44" y="85.30" font-size="9.2" font-weight="bold" font-style="normal" fill="#000" stroke="#000" stroke-width="0.3" textLength="27.82" lengthAdjust="spacingAndGlyphs">57.5%</text>
<g clip-path="url(#c4)">
<path d="M359.56 118.03 L359.83 117.88 L360.10 117.69 L360.36 117.47 L360.63 117.19 L360.90 116.86 L361.17 116.46 L361.44 115.99 L361.71 115.44 L361.98 114.79 L362.25 114.03 L362.51 113.16 L362.78 112.16 L363.05 111.03 L363.32 109.75 L363.59 108.33 L363.86 106.76 L364.13 105.04 L364.39 103.18 L364.66 101.18 L364.93 99.06 L365.20 96.85 L365.47 94.57 L365.74 92.25 L366.01 89.93 L366.28 87.66 L366.54 85.49 L366.81 83.48 L367.08 81.68 L367.35 80.18 L367.62 79.05 L367.89 78.39 L368.16 78.79 L368.43 81.01 L368.69 84.41 L368.96 88.49 L369.23 92.86 L369.50 97.21 L369.77 101.29 L370.04 104.94 L370.31 108.09 L370.57 110.71 L370.84 112.81 L371.11 114.44 L371.38 115.68 L371.65 116.60 L371.92 117.25 L372.19 117.71 L372.46 118.03" fill="none" stroke="#8a8a8a" stroke-width="0.9" stroke-linejoin="round"/>
<path d="M365.81 118.07 L366.20 117.92 L366.59 117.73 L366.98 117.50 L367.36 117.22 L367.75 116.87 L368.14 116.46 L368.53 115.96 L368.92 115.37 L369.31 114.67 L369.69 113.86 L370.08 112.92 L370.47 111.84 L370.86 110.61 L371.25 109.23 L371.64 107.69 L372.02 106.00 L372.41 104.15 L372.80 102.17 L373.19 100.06 L373.58 97.86 L373.97 95.59 L374.35 93.29 L374.74 91.01 L375.13 88.81 L375.52 86.74 L375.91 84.87 L376.30 83.28 L376.68 82.04 L377.07 81.27 L377.46 81.31 L377.85 82.85 L378.24 85.40 L378.63 88.60 L379.01 92.17 L379.40 95.85 L379.79 99.46 L380.18 102.83 L380.57 105.88 L380.96 108.54 L381.34 110.80 L381.73 112.66 L382.12 114.17 L382.51 115.35 L382.90 116.26 L383.29 116.94 L383.68 117.45 L384.06 117.81 L384.45 118.07" fill="none" stroke="#1a1a1a" stroke-width="1.0" stroke-linejoin="round"/>
</g>
<rect x="358.50" y="76.30" width="44.00" height="43.00" fill="none" stroke="#9a9a9a" stroke-width="1.0" />
<line x1="356.70" y1="111.62" x2="358.50" y2="111.62" stroke="#aaa" stroke-width="0.7"/><line x1="356.70" y1="103.94" x2="358.50" y2="103.94" stroke="#aaa" stroke-width="0.7"/><line x1="356.70" y1="96.26" x2="358.50" y2="96.26" stroke="#aaa" stroke-width="0.7"/><line x1="356.70" y1="88.59" x2="358.50" y2="88.59" stroke="#aaa" stroke-width="0.7"/><line x1="356.70" y1="80.91" x2="358.50" y2="80.91" stroke="#aaa" stroke-width="0.7"/><line x1="368.07" y1="119.30" x2="368.07" y2="121.10" stroke="#aaa" stroke-width="0.7"/><line x1="377.63" y1="119.30" x2="377.63" y2="121.10" stroke="#aaa" stroke-width="0.7"/><line x1="387.20" y1="119.30" x2="387.20" y2="121.10" stroke="#aaa" stroke-width="0.7"/><line x1="396.76" y1="119.30" x2="396.76" y2="121.10" stroke="#aaa" stroke-width="0.7"/>
<text x="389.04" y="85.50" font-size="9.2" font-weight="bold" font-style="normal" fill="#000" stroke="#000" stroke-width="0.3" textLength="13.02" lengthAdjust="spacingAndGlyphs">5.5</text>
<g clip-path="url(#c5)">
<ellipse cx="330.00" cy="150.00" rx="18.00" ry="8.00" transform="rotate(0 330.00 150.00)" fill="rgb(238,238,238)" opacity="0.6" filter="url(#b0)"/>
<ellipse cx="327.00" cy="162.50" rx="18.00" ry="4.20" transform="rotate(0 327.00 162.50)" fill="rgb(125,125,125)" opacity="0.85" filter="url(#b4)"/>
<ellipse cx="314.00" cy="162.80" rx="4.80" ry="3.60" transform="rotate(0 314.00 162.80)" fill="rgb(10,10,10)" opacity="0.95" filter="url(#b6)"/>
<ellipse cx="339.50" cy="160.50" rx="4.20" ry="3.60" transform="rotate(0 339.50 160.50)" fill="rgb(30,30,30)" opacity="0.95" filter="url(#b6)"/>
<ellipse cx="343.50" cy="145.00" rx="1.30" ry="9.00" transform="rotate(0 343.50 145.00)" fill="rgb(195,195,195)" opacity="0.6" filter="url(#b4)"/>
</g>
<rect x="309.70" y="125.20" width="43.20" height="43.10" fill="none" stroke="#9a9a9a" stroke-width="1.0" />
<line x1="307.90" y1="158.93" x2="309.70" y2="158.93" stroke="#aaa" stroke-width="0.7"/><line x1="307.90" y1="149.56" x2="309.70" y2="149.56" stroke="#aaa" stroke-width="0.7"/><line x1="307.90" y1="140.19" x2="309.70" y2="140.19" stroke="#aaa" stroke-width="0.7"/><line x1="307.90" y1="130.82" x2="309.70" y2="130.82" stroke="#aaa" stroke-width="0.7"/><line x1="319.09" y1="168.30" x2="319.09" y2="170.10" stroke="#aaa" stroke-width="0.7"/><line x1="328.48" y1="168.30" x2="328.48" y2="170.10" stroke="#aaa" stroke-width="0.7"/><line x1="337.87" y1="168.30" x2="337.87" y2="170.10" stroke="#aaa" stroke-width="0.7"/><line x1="347.27" y1="168.30" x2="347.27" y2="170.10" stroke="#aaa" stroke-width="0.7"/>
<rect x="332.40" y="154.00" width="12.60" height="12.70" fill="none" stroke="#858585" stroke-width="0.95" />
<text x="311.54" y="135.30" font-size="9.2" font-weight="bold" font-style="normal" fill="#000" stroke="#000" stroke-width="0.3" textLength="27.22" lengthAdjust="spacingAndGlyphs">15.7%</text>
<g clip-path="url(#c6)">
<path d="M354.29 167.32 L354.59 167.24 L354.90 167.14 L355.20 167.02 L355.50 166.87 L355.80 166.69 L356.11 166.47 L356.41 166.20 L356.71 165.89 L357.02 165.52 L357.32 165.08 L357.62 164.58 L357.92 164.01 L358.23 163.35 L358.53 162.62 L358.83 161.80 L359.14 160.89 L359.44 159.91 L359.74 158.86 L360.04 157.74 L360.35 156.57 L360.65 155.37 L360.95 154.16 L361.26 152.96 L361.56 151.80 L361.86 150.72 L362.16 149.75 L362.47 148.93 L362.77 148.31 L363.07 147.95 L363.38 148.09 L363.68 148.99 L363.98 150.38 L364.28 152.08 L364.59 153.95 L364.89 155.87 L365.19 157.74 L365.50 159.48 L365.80 161.05 L366.10 162.42 L366.40 163.58 L366.71 164.54 L367.01 165.31 L367.31 165.92 L367.62 166.38 L367.92 166.74 L368.22 167.00 L368.52 167.19 L368.83 167.32" fill="none" stroke="#555" stroke-width="1.1" stroke-linejoin="round"/>
<path d="M366.12 167.03 L366.37 166.83 L366.61 166.56 L366.86 166.22 L367.11 165.79 L367.35 165.25 L367.60 164.57 L367.85 163.74 L368.09 162.72 L368.34 161.51 L368.59 160.07 L368.83 158.40 L369.08 156.48 L369.33 154.30 L369.57 151.89 L369.82 149.25 L370.07 146.43 L370.31 143.48 L370.56 140.47 L370.81 137.49 L371.05 134.65 L371.30 132.06 L371.55 129.87 L371.79 128.23 L372.04 127.35 L372.29 127.72 L372.53 129.07 L372.78 131.08 L373.03 133.57 L373.27 136.39 L373.52 139.39 L373.77 142.46 L374.01 145.50 L374.26 148.42 L374.51 151.17 L374.76 153.70 L375.00 155.98 L375.25 158.00 L375.50 159.76 L375.74 161.27 L375.99 162.54 L376.24 163.60 L376.48 164.48 L376.73 165.19 L376.98 165.75 L377.22 166.20 L377.47 166.55 L377.72 166.82 L377.96 167.03" fill="none" stroke="#444" stroke-width="1.2" stroke-linejoin="round"/>
</g>
<rect x="358.70" y="125.00" width="44.10" height="43.30" fill="none" stroke="#9a9a9a" stroke-width="1.0" />
<line x1="356.90" y1="160.57" x2="358.70" y2="160.57" stroke="#aaa" stroke-width="0.7"/><line x1="356.90" y1="152.84" x2="358.70" y2="152.84" stroke="#aaa" stroke-width="0.7"/><line x1="356.90" y1="145.10" x2="358.70" y2="145.10" stroke="#aaa" stroke-width="0.7"/><line x1="356.90" y1="137.37" x2="358.70" y2="137.37" stroke="#aaa" stroke-width="0.7"/><line x1="356.90" y1="129.64" x2="358.70" y2="129.64" stroke="#aaa" stroke-width="0.7"/><line x1="368.29" y1="168.30" x2="368.29" y2="170.10" stroke="#aaa" stroke-width="0.7"/><line x1="377.87" y1="168.30" x2="377.87" y2="170.10" stroke="#aaa" stroke-width="0.7"/><line x1="387.46" y1="168.30" x2="387.46" y2="170.10" stroke="#aaa" stroke-width="0.7"/><line x1="397.05" y1="168.30" x2="397.05" y2="170.10" stroke="#aaa" stroke-width="0.7"/>
<text x="380.94" y="134.30" font-size="9.2" font-weight="bold" font-style="normal" fill="#000" stroke="#000" stroke-width="0.3" textLength="19.52" lengthAdjust="spacingAndGlyphs">6.04</text>
<g clip-path="url(#c7)">
<ellipse cx="330.00" cy="199.00" rx="18.00" ry="8.00" transform="rotate(0 330.00 199.00)" fill="rgb(238,238,238)" opacity="0.6" filter="url(#b0)"/>
<ellipse cx="327.00" cy="211.50" rx="18.00" ry="4.20" transform="rotate(0 327.00 211.50)" fill="rgb(125,125,125)" opacity="0.85" filter="url(#b4)"/>
<ellipse cx="314.00" cy="212.00" rx="4.80" ry="3.60" transform="rotate(0 314.00 212.00)" fill="rgb(10,10,10)" opacity="0.95" filter="url(#b6)"/>
<ellipse cx="340.00" cy="209.00" rx="4.20" ry="3.60" transform="rotate(0 340.00 209.00)" fill="rgb(30,30,30)" opacity="0.95" filter="url(#b6)"/>
<ellipse cx="343.50" cy="194.00" rx="1.30" ry="9.00" transform="rotate(0 343.50 194.00)" fill="rgb(195,195,195)" opacity="0.6" filter="url(#b4)"/>
</g>
<rect x="309.70" y="174.50" width="43.20" height="42.80" fill="none" stroke="#9a9a9a" stroke-width="1.0" />
<line x1="307.90" y1="208.00" x2="309.70" y2="208.00" stroke="#aaa" stroke-width="0.7"/><line x1="307.90" y1="198.69" x2="309.70" y2="198.69" stroke="#aaa" stroke-width="0.7"/><line x1="307.90" y1="189.39" x2="309.70" y2="189.39" stroke="#aaa" stroke-width="0.7"/><line x1="307.90" y1="180.08" x2="309.70" y2="180.08" stroke="#aaa" stroke-width="0.7"/><line x1="319.09" y1="217.30" x2="319.09" y2="219.10" stroke="#aaa" stroke-width="0.7"/><line x1="328.48" y1="217.30" x2="328.48" y2="219.10" stroke="#aaa" stroke-width="0.7"/><line x1="337.87" y1="217.30" x2="337.87" y2="219.10" stroke="#aaa" stroke-width="0.7"/><line x1="347.27" y1="217.30" x2="347.27" y2="219.10" stroke="#aaa" stroke-width="0.7"/>
<rect x="333.30" y="203.00" width="11.30" height="12.90" fill="none" stroke="#858585" stroke-width="0.95" />
<text x="312.74" y="184.30" font-size="9.2" font-weight="bold" font-style="normal" fill="#000" stroke="#000" stroke-width="0.3" textLength="27.72" lengthAdjust="spacingAndGlyphs">20.3%</text>
<g clip-path="url(#c8)">
<path d="M355.04 216.10 L355.35 215.93 L355.65 215.72 L355.95 215.46 L356.25 215.12 L356.55 214.71 L356.85 214.20 L357.15 213.58 L357.45 212.83 L357.75 211.94 L358.05 210.90 L358.35 209.68 L358.65 208.27 L358.95 206.68 L359.25 204.90 L359.55 202.93 L359.85 200.80 L360.15 198.52 L360.45 196.12 L360.75 193.67 L361.05 191.21 L361.35 188.81 L361.65 186.55 L361.95 184.54 L362.26 182.86 L362.56 181.63 L362.86 181.02 L363.16 181.52 L363.46 182.96 L363.76 185.05 L364.06 187.58 L364.36 190.38 L364.66 193.31 L364.96 196.25 L365.26 199.10 L365.56 201.77 L365.86 204.22 L366.16 206.41 L366.46 208.33 L366.76 209.97 L367.06 211.37 L367.36 212.52 L367.66 213.46 L367.96 214.21 L368.26 214.81 L368.56 215.27 L368.86 215.63 L369.17 215.89 L369.47 216.10" fill="none" stroke="#555" stroke-width="1.1" stroke-linejoin="round"/>
<path d="M366.17 216.03 L366.41 215.83 L366.64 215.57 L366.88 215.23 L367.11 214.79 L367.34 214.24 L367.58 213.55 L367.81 212.71 L368.05 211.68 L368.28 210.45 L368.52 208.99 L368.75 207.29 L368.99 205.34 L369.22 203.14 L369.46 200.70 L369.69 198.03 L369.92 195.19 L370.16 192.22 L370.39 189.21 L370.63 186.25 L370.86 183.44 L371.10 180.92 L371.33 178.84 L371.57 177.35 L371.80 176.70 L372.03 177.35 L372.27 178.84 L372.50 180.92 L372.74 183.44 L372.97 186.25 L373.21 189.21 L373.44 192.22 L373.68 195.19 L373.91 198.03 L374.14 200.70 L374.38 203.14 L374.61 205.34 L374.85 207.29 L375.08 208.99 L375.32 210.45 L375.55 211.68 L375.79 212.71 L376.02 213.55 L376.26 214.24 L376.49 214.79 L376.72 215.23 L376.96 215.57 L377.19 215.83 L377.43 216.03" fill="none" stroke="#333" stroke-width="1.2" stroke-linejoin="round"/>
</g>
<rect x="358.70" y="174.30" width="43.60" height="43.00" fill="none" stroke="#9a9a9a" stroke-width="1.0" />
<line x1="356.90" y1="209.62" x2="358.70" y2="209.62" stroke="#aaa" stroke-width="0.7"/><line x1="356.90" y1="201.94" x2="358.70" y2="201.94" stroke="#aaa" stroke-width="0.7"/><line x1="356.90" y1="194.26" x2="358.70" y2="194.26" stroke="#aaa" stroke-width="0.7"/><line x1="356.90" y1="186.59" x2="358.70" y2="186.59" stroke="#aaa" stroke-width="0.7"/><line x1="356.90" y1="178.91" x2="358.70" y2="178.91" stroke="#aaa" stroke-width="0.7"/><line x1="368.18" y1="217.30" x2="368.18" y2="219.10" stroke="#aaa" stroke-width="0.7"/><line x1="377.66" y1="217.30" x2="377.66" y2="219.10" stroke="#aaa" stroke-width="0.7"/><line x1="387.13" y1="217.30" x2="387.13" y2="219.10" stroke="#aaa" stroke-width="0.7"/><line x1="396.61" y1="217.30" x2="396.61" y2="219.10" stroke="#aaa" stroke-width="0.7"/>
<text x="387.24" y="183.30" font-size="9.2" font-weight="bold" font-style="normal" fill="#000" stroke="#000" stroke-width="0.3" textLength="14.22" lengthAdjust="spacingAndGlyphs">6.5</text>
<g clip-path="url(#c9)">
<ellipse cx="328.00" cy="264.00" rx="20.00" ry="10.00" transform="rotate(-32 328.00 264.00)" fill="rgb(225,225,225)" opacity="0.7" filter="url(#b0)"/>
<ellipse cx="325.00" cy="270.00" rx="16.00" ry="7.00" transform="rotate(-25 325.00 270.00)" fill="rgb(185,185,185)" opacity="0.7" filter="url(#b7)"/>
<ellipse cx="318.00" cy="275.00" rx="8.00" ry="4.50" transform="rotate(-10 318.00 275.00)" fill="rgb(85,85,85)" opacity="0.85" filter="url(#b5)"/>
<ellipse cx="344.00" cy="257.50" rx="3.20" ry="9.00" transform="rotate(0 344.00 257.50)" fill="rgb(65,65,65)" opacity="0.88" filter="url(#b4)"/>
</g>
<rect x="309.70" y="238.50" width="43.20" height="43.10" fill="none" stroke="#9a9a9a" stroke-width="1.0" />
<line x1="307.90" y1="272.23" x2="309.70" y2="272.23" stroke="#aaa" stroke-width="0.7"/><line x1="307.90" y1="262.86" x2="309.70" y2="262.86" stroke="#aaa" stroke-width="0.7"/><line x1="307.90" y1="253.49" x2="309.70" y2="253.49" stroke="#aaa" stroke-width="0.7"/><line x1="307.90" y1="244.12" x2="309.70" y2="244.12" stroke="#aaa" stroke-width="0.7"/><line x1="319.09" y1="281.60" x2="319.09" y2="283.40" stroke="#aaa" stroke-width="0.7"/><line x1="328.48" y1="281.60" x2="328.48" y2="283.40" stroke="#aaa" stroke-width="0.7"/><line x1="337.87" y1="281.60" x2="337.87" y2="283.40" stroke="#aaa" stroke-width="0.7"/><line x1="347.27" y1="281.60" x2="347.27" y2="283.40" stroke="#aaa" stroke-width="0.7"/>
<rect x="338.00" y="247.30" width="11.70" height="21.20" fill="none" stroke="#858585" stroke-width="0.95" />
<text x="312.74" y="248.50" font-size="9.2" font-weight="bold" font-style="normal" fill="#000" stroke="#000" stroke-width="0.3" textLength="27.72" lengthAdjust="spacingAndGlyphs">42.4%</text>
<g clip-path="url(#c10)">
<path d="M362.84 280.64 L363.04 280.48 L363.23 280.29 L363.43 280.04 L363.63 279.75 L363.83 279.39 L364.02 278.95 L364.22 278.43 L364.42 277.80 L364.62 277.07 L364.82 276.22 L365.01 275.23 L365.21 274.10 L365.41 272.81 L365.61 271.36 L365.81 269.75 L366.00 267.97 L366.20 266.03 L366.40 263.95 L366.60 261.74 L366.79 259.42 L366.99 257.04 L367.19 254.62 L367.39 252.22 L367.59 249.90 L367.78 247.72 L367.98 245.74 L368.18 244.05 L368.38 242.74 L368.58 241.90 L368.77 241.88 L368.97 243.45 L369.17 246.11 L369.37 249.47 L369.56 253.22 L369.76 257.12 L369.96 260.93 L370.16 264.50 L370.36 267.73 L370.55 270.55 L370.75 272.94 L370.95 274.92 L371.15 276.51 L371.35 277.76 L371.54 278.72 L371.74 279.45 L371.94 279.98 L372.14 280.37 L372.33 280.64" fill="none" stroke="#8a8a8a" stroke-width="0.9" stroke-linejoin="round"/>
<path d="M367.16 280.65 L367.51 280.48 L367.86 280.25 L368.21 279.96 L368.56 279.60 L368.91 279.14 L369.27 278.59 L369.62 277.91 L369.97 277.09 L370.32 276.11 L370.67 274.96 L371.02 273.62 L371.38 272.08 L371.73 270.34 L372.08 268.39 L372.43 266.23 L372.78 263.89 L373.13 261.40 L373.49 258.79 L373.84 256.11 L374.19 253.44 L374.54 250.85 L374.89 248.42 L375.24 246.27 L375.60 244.50 L375.95 243.24 L376.30 242.70 L376.65 243.43 L377.00 245.09 L377.36 247.40 L377.71 250.16 L378.06 253.20 L378.41 256.36 L378.76 259.51 L379.11 262.55 L379.47 265.40 L379.82 268.01 L380.17 270.34 L380.52 272.38 L380.87 274.13 L381.22 275.61 L381.58 276.84 L381.93 277.84 L382.28 278.64 L382.63 279.28 L382.98 279.77 L383.33 280.15 L383.69 280.44 L384.04 280.65" fill="none" stroke="#1a1a1a" stroke-width="1.0" stroke-linejoin="round"/>
</g>
<rect x="358.70" y="238.30" width="43.40" height="43.60" fill="none" stroke="#9a9a9a" stroke-width="1.0" />
<line x1="356.90" y1="274.11" x2="358.70" y2="274.11" stroke="#aaa" stroke-width="0.7"/><line x1="356.90" y1="266.33" x2="358.70" y2="266.33" stroke="#aaa" stroke-width="0.7"/><line x1="356.90" y1="258.54" x2="358.70" y2="258.54" stroke="#aaa" stroke-width="0.7"/><line x1="356.90" y1="250.76" x2="358.70" y2="250.76" stroke="#aaa" stroke-width="0.7"/><line x1="356.90" y1="242.97" x2="358.70" y2="242.97" stroke="#aaa" stroke-width="0.7"/><line x1="368.13" y1="281.90" x2="368.13" y2="283.70" stroke="#aaa" stroke-width="0.7"/><line x1="377.57" y1="281.90" x2="377.57" y2="283.70" stroke="#aaa" stroke-width="0.7"/><line x1="387.00" y1="281.90" x2="387.00" y2="283.70" stroke="#aaa" stroke-width="0.7"/><line x1="396.44" y1="281.90" x2="396.44" y2="283.70" stroke="#aaa" stroke-width="0.7"/>
<text x="387.74" y="247.70" font-size="9.2" font-weight="bold" font-style="normal" fill="#000" stroke="#000" stroke-width="0.3" textLength="13.12" lengthAdjust="spacingAndGlyphs">5.7</text>
<g clip-path="url(#c11)">
<ellipse cx="326.00" cy="330.00" rx="20.00" ry="11.00" transform="rotate(-40 326.00 330.00)" fill="rgb(215,215,215)" opacity="0.7" filter="url(#b0)"/>
<ellipse cx="322.00" cy="335.00" rx="15.00" ry="8.00" transform="rotate(-35 322.00 335.00)" fill="rgb(205,205,205)" opacity="0.6" filter="url(#b1)"/>
<ellipse cx="343.00" cy="313.00" rx="3.00" ry="7.00" transform="rotate(20 343.00 313.00)" fill="rgb(130,130,130)" opacity="0.7" filter="url(#b5)"/>
<ellipse cx="340.00" cy="323.00" rx="3.80" ry="5.00" transform="rotate(0 340.00 323.00)" fill="rgb(12,12,12)" opacity="0.95" filter="url(#b3)"/>
<ellipse cx="340.00" cy="337.00" rx="3.00" ry="3.00" transform="rotate(0 340.00 337.00)" fill="rgb(185,185,185)" opacity="0.6" filter="url(#b4)"/>
</g>
<rect x="309.70" y="300.40" width="43.20" height="43.80" fill="none" stroke="#9a9a9a" stroke-width="1.0" />
<line x1="307.90" y1="334.68" x2="309.70" y2="334.68" stroke="#aaa" stroke-width="0.7"/><line x1="307.90" y1="325.16" x2="309.70" y2="325.16" stroke="#aaa" stroke-width="0.7"/><line x1="307.90" y1="315.63" x2="309.70" y2="315.63" stroke="#aaa" stroke-width="0.7"/><line x1="307.90" y1="306.11" x2="309.70" y2="306.11" stroke="#aaa" stroke-width="0.7"/><line x1="319.09" y1="344.20" x2="319.09" y2="346.00" stroke="#aaa" stroke-width="0.7"/><line x1="328.48" y1="344.20" x2="328.48" y2="346.00" stroke="#aaa" stroke-width="0.7"/><line x1="337.87" y1="344.20" x2="337.87" y2="346.00" stroke="#aaa" stroke-width="0.7"/><line x1="347.27" y1="344.20" x2="347.27" y2="346.00" stroke="#aaa" stroke-width="0.7"/>
<rect x="334.30" y="316.80" width="11.30" height="13.70" fill="none" stroke="#858585" stroke-width="0.95" />
<text x="312.74" y="310.50" font-size="9.2" font-weight="bold" font-style="normal" fill="#000" stroke="#000" stroke-width="0.3" textLength="27.72" lengthAdjust="spacingAndGlyphs">59.2%</text>
<g clip-path="url(#c12)">
<path d="M362.87 342.84 L363.06 342.68 L363.24 342.49 L363.43 342.26 L363.61 341.97 L363.80 341.62 L363.99 341.20 L364.17 340.70 L364.36 340.11 L364.54 339.41 L364.73 338.60 L364.91 337.66 L365.10 336.59 L365.29 335.36 L365.47 333.99 L365.66 332.46 L365.84 330.77 L366.03 328.92 L366.21 326.93 L366.40 324.81 L366.59 322.58 L366.77 320.26 L366.96 317.90 L367.14 315.53 L367.33 313.20 L367.51 310.97 L367.70 308.90 L367.88 307.06 L368.07 305.53 L368.26 304.39 L368.44 303.76 L368.63 304.27 L368.81 306.37 L369.00 309.47 L369.18 313.20 L369.37 317.22 L369.56 321.26 L369.74 325.12 L369.93 328.65 L370.11 331.75 L370.30 334.40 L370.48 336.59 L370.67 338.35 L370.85 339.72 L371.04 340.78 L371.23 341.57 L371.41 342.14 L371.60 342.55 L371.78 342.84" fill="none" stroke="#8a8a8a" stroke-width="0.9" stroke-linejoin="round"/>
<path d="M366.98 342.86 L367.35 342.71 L367.71 342.51 L368.07 342.26 L368.44 341.95 L368.80 341.58 L369.17 341.12 L369.53 340.57 L369.89 339.91 L370.26 339.13 L370.62 338.22 L370.99 337.17 L371.35 335.95 L371.71 334.57 L372.08 333.02 L372.44 331.30 L372.81 329.41 L373.17 327.37 L373.53 325.18 L373.90 322.88 L374.26 320.50 L374.63 318.08 L374.99 315.69 L375.35 313.36 L375.72 311.19 L376.08 309.24 L376.45 307.60 L376.81 306.37 L377.17 305.67 L377.54 306.01 L377.90 307.65 L378.26 310.14 L378.63 313.18 L378.99 316.54 L379.36 320.03 L379.72 323.45 L380.08 326.70 L380.45 329.67 L380.81 332.31 L381.18 334.60 L381.54 336.53 L381.90 338.13 L382.27 339.42 L382.63 340.44 L383.00 341.23 L383.36 341.84 L383.72 342.29 L384.09 342.62 L384.45 342.86" fill="none" stroke="#1a1a1a" stroke-width="1.0" stroke-linejoin="round"/>
</g>
<rect x="359.00" y="300.30" width="43.60" height="43.80" fill="none" stroke="#9a9a9a" stroke-width="1.0" />
<line x1="357.20" y1="336.28" x2="359.00" y2="336.28" stroke="#aaa" stroke-width="0.7"/><line x1="357.20" y1="328.46" x2="359.00" y2="328.46" stroke="#aaa" stroke-width="0.7"/><line x1="357.20" y1="320.64" x2="359.00" y2="320.64" stroke="#aaa" stroke-width="0.7"/><line x1="357.20" y1="312.81" x2="359.00" y2="312.81" stroke="#aaa" stroke-width="0.7"/><line x1="357.20" y1="304.99" x2="359.00" y2="304.99" stroke="#aaa" stroke-width="0.7"/><line x1="368.48" y1="344.10" x2="368.48" y2="345.90" stroke="#aaa" stroke-width="0.7"/><line x1="377.96" y1="344.10" x2="377.96" y2="345.90" stroke="#aaa" stroke-width="0.7"/><line x1="387.43" y1="344.10" x2="387.43" y2="345.90" stroke="#aaa" stroke-width="0.7"/><line x1="396.91" y1="344.10" x2="396.91" y2="345.90" stroke="#aaa" stroke-width="0.7"/>
<text x="380.94" y="309.50" font-size="9.2" font-weight="bold" font-style="normal" fill="#000" stroke="#000" stroke-width="0.3" textLength="19.22" lengthAdjust="spacingAndGlyphs">5.94</text>
<g clip-path="url(#c13)">
<ellipse cx="330.00" cy="380.00" rx="18.00" ry="8.00" transform="rotate(0 330.00 380.00)" fill="rgb(235,235,235)" opacity="0.6" filter="url(#b0)"/>
<ellipse cx="322.00" cy="390.00" rx="13.00" ry="3.80" transform="rotate(0 322.00 390.00)" fill="rgb(150,150,150)" opacity="0.8" filter="url(#b2)"/>
<ellipse cx="339.50" cy="389.00" rx="4.60" ry="4.00" transform="rotate(0 339.50 389.00)" fill="rgb(10,10,10)" opacity="0.95" filter="url(#b3)"/>
<ellipse cx="344.00" cy="372.00" rx="1.30" ry="8.00" transform="rotate(0 344.00 372.00)" fill="rgb(200,200,200)" opacity="0.5" filter="url(#b4)"/>
</g>
<rect x="309.70" y="353.00" width="43.20" height="43.40" fill="none" stroke="#9a9a9a" stroke-width="1.0" />
<line x1="307.90" y1="386.97" x2="309.70" y2="386.97" stroke="#aaa" stroke-width="0.7"/><line x1="307.90" y1="377.53" x2="309.70" y2="377.53" stroke="#aaa" stroke-width="0.7"/><line x1="307.90" y1="368.10" x2="309.70" y2="368.10" stroke="#aaa" stroke-width="0.7"/><line x1="307.90" y1="358.66" x2="309.70" y2="358.66" stroke="#aaa" stroke-width="0.7"/><line x1="319.09" y1="396.40" x2="319.09" y2="398.20" stroke="#aaa" stroke-width="0.7"/><line x1="328.48" y1="396.40" x2="328.48" y2="398.20" stroke="#aaa" stroke-width="0.7"/><line x1="337.87" y1="396.40" x2="337.87" y2="398.20" stroke="#aaa" stroke-width="0.7"/><line x1="347.27" y1="396.40" x2="347.27" y2="398.20" stroke="#aaa" stroke-width="0.7"/>
<rect x="333.30" y="382.00" width="11.90" height="12.60" fill="none" stroke="#858585" stroke-width="0.95" />
<text x="312.74" y="362.50" font-size="9.2" font-weight="bold" font-style="normal" fill="#000" stroke="#000" stroke-width="0.3" textLength="27.72" lengthAdjust="spacingAndGlyphs">67.5%</text>
<g clip-path="url(#c14)">
<path d="M354.14 395.15 L354.45 395.01 L354.76 394.84 L355.06 394.63 L355.37 394.36 L355.68 394.04 L355.99 393.64 L356.30 393.16 L356.60 392.58 L356.91 391.90 L357.22 391.10 L357.53 390.17 L357.83 389.10 L358.14 387.88 L358.45 386.52 L358.76 385.01 L359.07 383.35 L359.37 381.56 L359.68 379.66 L359.99 377.66 L360.30 375.61 L360.60 373.55 L360.91 371.52 L361.22 369.58 L361.53 367.80 L361.84 366.25 L362.14 365.01 L362.45 364.18 L362.76 363.94 L363.07 364.84 L363.37 366.55 L363.68 368.82 L363.99 371.44 L364.30 374.25 L364.61 377.09 L364.91 379.84 L365.22 382.42 L365.53 384.77 L365.84 386.84 L366.14 388.64 L366.45 390.15 L366.76 391.40 L367.07 392.41 L367.38 393.21 L367.68 393.84 L367.99 394.32 L368.30 394.69 L368.61 394.95 L368.91 395.15" fill="none" stroke="#555" stroke-width="1.1" stroke-linejoin="round"/>
<path d="M365.53 395.04 L365.81 394.84 L366.08 394.59 L366.35 394.25 L366.62 393.83 L366.89 393.30 L367.16 392.63 L367.43 391.82 L367.70 390.82 L367.97 389.63 L368.25 388.23 L368.52 386.59 L368.79 384.70 L369.06 382.57 L369.33 380.21 L369.60 377.63 L369.87 374.87 L370.14 371.98 L370.41 369.03 L370.69 366.12 L370.96 363.33 L371.23 360.81 L371.50 358.67 L371.77 357.08 L372.04 356.24 L372.31 356.63 L372.58 357.96 L372.85 359.94 L373.13 362.38 L373.40 365.13 L373.67 368.07 L373.94 371.07 L374.21 374.04 L374.48 376.89 L374.75 379.57 L375.02 382.04 L375.29 384.26 L375.57 386.23 L375.84 387.95 L376.11 389.42 L376.38 390.66 L376.65 391.70 L376.92 392.55 L377.19 393.24 L377.46 393.80 L377.73 394.23 L378.01 394.58 L378.28 394.84 L378.55 395.04" fill="none" stroke="#333" stroke-width="1.2" stroke-linejoin="round"/>
</g>
<rect x="358.70" y="353.00" width="43.90" height="43.30" fill="none" stroke="#9a9a9a" stroke-width="1.0" />
<line x1="356.90" y1="388.57" x2="358.70" y2="388.57" stroke="#aaa" stroke-width="0.7"/><line x1="356.90" y1="380.84" x2="358.70" y2="380.84" stroke="#aaa" stroke-width="0.7"/><line x1="356.90" y1="373.10" x2="358.70" y2="373.10" stroke="#aaa" stroke-width="0.7"/><line x1="356.90" y1="365.37" x2="358.70" y2="365.37" stroke="#aaa" stroke-width="0.7"/><line x1="356.90" y1="357.64" x2="358.70" y2="357.64" stroke="#aaa" stroke-width="0.7"/><line x1="368.24" y1="396.30" x2="368.24" y2="398.10" stroke="#aaa" stroke-width="0.7"/><line x1="377.79" y1="396.30" x2="377.79" y2="398.10" stroke="#aaa" stroke-width="0.7"/><line x1="387.33" y1="396.30" x2="387.33" y2="398.10" stroke="#aaa" stroke-width="0.7"/><line x1="396.87" y1="396.30" x2="396.87" y2="398.10" stroke="#aaa" stroke-width="0.7"/>
<text x="380.94" y="361.50" font-size="9.2" font-weight="bold" font-style="normal" fill="#000" stroke="#000" stroke-width="0.3" textLength="19.52" lengthAdjust="spacingAndGlyphs">6.39</text>
<g clip-path="url(#c15)">
<ellipse cx="331.00" cy="450.00" rx="21.00" ry="12.00" transform="rotate(-35 331.00 450.00)" fill="rgb(205,205,205)" opacity="0.7" filter="url(#b0)"/>
<ellipse cx="331.00" cy="452.00" rx="17.00" ry="9.00" transform="rotate(-35 331.00 452.00)" fill="rgb(190,190,190)" opacity="0.7" filter="url(#b1)"/>
<ellipse cx="314.00" cy="466.00" rx="5.50" ry="3.50" transform="rotate(0 314.00 466.00)" fill="rgb(45,45,45)" opacity="0.85" filter="url(#b8)"/>
<ellipse cx="339.00" cy="460.00" rx="4.20" ry="6.50" transform="rotate(0 339.00 460.00)" fill="rgb(85,85,85)" opacity="0.8" filter="url(#b5)"/>
<ellipse cx="339.20" cy="461.50" rx="2.20" ry="2.60" transform="rotate(0 339.20 461.50)" fill="rgb(40,40,40)" opacity="0.85" filter="url(#b3)"/>
</g>
<rect x="309.70" y="427.80" width="43.20" height="43.10" fill="none" stroke="#9a9a9a" stroke-width="1.0" />
<line x1="307.90" y1="461.53" x2="309.70" y2="461.53" stroke="#aaa" stroke-width="0.7"/><line x1="307.90" y1="452.16" x2="309.70" y2="452.16" stroke="#aaa" stroke-width="0.7"/><line x1="307.90" y1="442.79" x2="309.70" y2="442.79" stroke="#aaa" stroke-width="0.7"/><line x1="307.90" y1="433.42" x2="309.70" y2="433.42" stroke="#aaa" stroke-width="0.7"/><line x1="319.09" y1="470.90" x2="319.09" y2="472.70" stroke="#aaa" stroke-width="0.7"/><line x1="328.48" y1="470.90" x2="328.48" y2="472.70" stroke="#aaa" stroke-width="0.7"/><line x1="337.87" y1="470.90" x2="337.87" y2="472.70" stroke="#aaa" stroke-width="0.7"/><line x1="347.27" y1="470.90" x2="347.27" y2="472.70" stroke="#aaa" stroke-width="0.7"/>
<rect x="332.40" y="450.40" width="12.20" height="17.90" fill="none" stroke="#858585" stroke-width="0.95" />
<text x="312.74" y="437.50" font-size="9.2" font-weight="bold" font-style="normal" fill="#000" stroke="#000" stroke-width="0.3" textLength="27.72" lengthAdjust="spacingAndGlyphs">16.6%</text>
<g clip-path="url(#c16)">
<path d="M362.42 469.72 L362.62 469.57 L362.82 469.38 L363.02 469.13 L363.22 468.83 L363.41 468.45 L363.61 467.99 L363.81 467.43 L364.01 466.75 L364.20 465.95 L364.40 465.01 L364.60 463.91 L364.80 462.64 L365.00 461.21 L365.19 459.60 L365.39 457.82 L365.59 455.89 L365.79 453.81 L365.99 451.62 L366.18 449.36 L366.38 447.07 L366.58 444.81 L366.78 442.65 L366.97 440.67 L367.17 438.96 L367.37 437.60 L367.57 436.72 L367.77 436.60 L367.96 437.60 L368.16 439.36 L368.36 441.63 L368.56 444.26 L368.76 447.07 L368.95 449.93 L369.15 452.73 L369.35 455.38 L369.55 457.82 L369.74 460.02 L369.94 461.95 L370.14 463.61 L370.34 465.01 L370.54 466.16 L370.73 467.11 L370.93 467.86 L371.13 468.45 L371.33 468.91 L371.53 469.26 L371.72 469.53 L371.92 469.72" fill="none" stroke="#8a8a8a" stroke-width="0.9" stroke-linejoin="round"/>
<path d="M363.65 469.64 L364.09 469.49 L364.52 469.30 L364.96 469.07 L365.39 468.78 L365.83 468.44 L366.26 468.03 L366.70 467.53 L367.13 466.95 L367.56 466.27 L368.00 465.47 L368.43 464.55 L368.87 463.49 L369.30 462.29 L369.74 460.94 L370.17 459.43 L370.61 457.77 L371.04 455.96 L371.48 454.00 L371.91 451.91 L372.35 449.71 L372.78 447.43 L373.22 445.09 L373.65 442.74 L374.09 440.43 L374.52 438.21 L374.96 436.14 L375.39 434.28 L375.83 432.72 L376.26 431.53 L376.69 430.81 L377.13 431.06 L377.56 432.98 L378.00 435.99 L378.43 439.67 L378.87 443.68 L379.30 447.75 L379.74 451.65 L380.17 455.22 L380.61 458.38 L381.04 461.07 L381.48 463.30 L381.91 465.09 L382.35 466.49 L382.78 467.56 L383.22 468.36 L383.65 468.94 L384.09 469.35 L384.52 469.64" fill="none" stroke="#1a1a1a" stroke-width="1.45" stroke-linejoin="round"/>
</g>
<rect x="358.70" y="427.70" width="43.90" height="43.20" fill="none" stroke="#9a9a9a" stroke-width="1.0" />
<line x1="356.90" y1="463.19" x2="358.70" y2="463.19" stroke="#aaa" stroke-width="0.7"/><line x1="356.90" y1="455.47" x2="358.70" y2="455.47" stroke="#aaa" stroke-width="0.7"/><line x1="356.90" y1="447.76" x2="358.70" y2="447.76" stroke="#aaa" stroke-width="0.7"/><line x1="356.90" y1="440.04" x2="358.70" y2="440.04" stroke="#aaa" stroke-width="0.7"/><line x1="356.90" y1="432.33" x2="358.70" y2="432.33" stroke="#aaa" stroke-width="0.7"/><line x1="368.24" y1="470.90" x2="368.24" y2="472.70" stroke="#aaa" stroke-width="0.7"/><line x1="377.79" y1="470.90" x2="377.79" y2="472.70" stroke="#aaa" stroke-width="0.7"/><line x1="387.33" y1="470.90" x2="387.33" y2="472.70" stroke="#aaa" stroke-width="0.7"/><line x1="396.87" y1="470.90" x2="396.87" y2="472.70" stroke="#aaa" stroke-width="0.7"/>
<text x="380.94" y="436.00" font-size="9.2" font-weight="bold" font-style="normal" fill="#000" stroke="#000" stroke-width="0.3" textLength="19.52" lengthAdjust="spacingAndGlyphs">6.96</text>
<g clip-path="url(#c17)">
<ellipse cx="328.00" cy="505.00" rx="18.00" ry="7.00" transform="rotate(0 328.00 505.00)" fill="rgb(235,235,235)" opacity="0.6" filter="url(#b0)"/>
<ellipse cx="324.00" cy="514.00" rx="14.00" ry="4.50" transform="rotate(0 324.00 514.00)" fill="rgb(135,135,135)" opacity="0.85" filter="url(#b2)"/>
<ellipse cx="312.60" cy="516.00" rx="4.00" ry="3.20" transform="rotate(0 312.60 516.00)" fill="rgb(10,10,10)" opacity="0.95" filter="url(#b6)"/>
<ellipse cx="336.00" cy="512.00" rx="5.00" ry="4.00" transform="rotate(0 336.00 512.00)" fill="rgb(110,110,110)" opacity="0.8" filter="url(#b4)"/>
<ellipse cx="340.00" cy="512.80" rx="3.60" ry="3.30" transform="rotate(0 340.00 512.80)" fill="rgb(15,15,15)" opacity="0.95" filter="url(#b9)"/>
</g>
<rect x="309.70" y="477.40" width="43.20" height="43.50" fill="none" stroke="#9a9a9a" stroke-width="1.0" />
<line x1="307.90" y1="511.44" x2="309.70" y2="511.44" stroke="#aaa" stroke-width="0.7"/><line x1="307.90" y1="501.99" x2="309.70" y2="501.99" stroke="#aaa" stroke-width="0.7"/><line x1="307.90" y1="492.53" x2="309.70" y2="492.53" stroke="#aaa" stroke-width="0.7"/><line x1="307.90" y1="483.07" x2="309.70" y2="483.07" stroke="#aaa" stroke-width="0.7"/><line x1="319.09" y1="520.90" x2="319.09" y2="522.70" stroke="#aaa" stroke-width="0.7"/><line x1="328.48" y1="520.90" x2="328.48" y2="522.70" stroke="#aaa" stroke-width="0.7"/><line x1="337.87" y1="520.90" x2="337.87" y2="522.70" stroke="#aaa" stroke-width="0.7"/><line x1="347.27" y1="520.90" x2="347.27" y2="522.70" stroke="#aaa" stroke-width="0.7"/>
<rect x="334.70" y="506.50" width="10.00" height="12.70" fill="none" stroke="#858585" stroke-width="0.95" />
<text x="312.74" y="486.70" font-size="9.2" font-weight="bold" font-style="normal" fill="#000" stroke="#000" stroke-width="0.3" textLength="27.52" lengthAdjust="spacingAndGlyphs">30.2%</text>
<g clip-path="url(#c18)">
<path d="M362.60 520.03 L362.77 519.82 L362.95 519.54 L363.12 519.18 L363.30 518.72 L363.48 518.13 L363.65 517.39 L363.83 516.48 L364.00 515.37 L364.18 514.03 L364.36 512.45 L364.53 510.61 L364.71 508.50 L364.88 506.12 L365.06 503.48 L365.23 500.63 L365.41 497.62 L365.59 494.50 L365.76 491.38 L365.94 488.38 L366.11 485.61 L366.29 483.24 L366.47 481.43 L366.64 480.40 L366.82 480.61 L366.99 481.81 L367.17 483.65 L367.34 485.96 L367.52 488.61 L367.70 491.47 L367.87 494.42 L368.05 497.37 L368.22 500.23 L368.40 502.96 L368.58 505.50 L368.75 507.82 L368.93 509.90 L369.10 511.74 L369.28 513.34 L369.46 514.71 L369.63 515.87 L369.81 516.85 L369.98 517.65 L370.16 518.30 L370.33 518.83 L370.51 519.24 L370.69 519.57 L370.86 519.83 L371.04 520.03" fill="none" stroke="#8a8a8a" stroke-width="0.9" stroke-linejoin="round"/>
<path d="M362.19 520.13 L362.59 520.01 L362.99 519.87 L363.39 519.69 L363.79 519.48 L364.19 519.22 L364.59 518.91 L364.99 518.55 L365.39 518.13 L365.79 517.64 L366.19 517.06 L366.59 516.40 L366.99 515.65 L367.39 514.79 L367.79 513.83 L368.19 512.76 L368.60 511.57 L369.00 510.27 L369.40 508.85 L369.80 507.33 L370.20 505.71 L370.60 504.00 L371.00 502.22 L371.40 500.40 L371.80 498.55 L372.20 496.72 L372.60 494.92 L373.00 493.21 L373.40 491.63 L373.80 490.22 L374.20 489.03 L374.60 488.13 L375.00 487.59 L375.41 487.86 L375.81 489.81 L376.21 492.84 L376.61 496.48 L377.01 500.33 L377.41 504.10 L377.81 507.57 L378.21 510.60 L378.61 513.13 L379.01 515.18 L379.41 516.76 L379.81 517.95 L380.21 518.82 L380.61 519.43 L381.01 519.85 L381.41 520.13" fill="none" stroke="#1a1a1a" stroke-width="1.4" stroke-linejoin="round"/>
</g>
<rect x="359.00" y="477.70" width="43.90" height="43.60" fill="none" stroke="#9a9a9a" stroke-width="1.0" />
<line x1="357.20" y1="513.51" x2="359.00" y2="513.51" stroke="#aaa" stroke-width="0.7"/><line x1="357.20" y1="505.73" x2="359.00" y2="505.73" stroke="#aaa" stroke-width="0.7"/><line x1="357.20" y1="497.94" x2="359.00" y2="497.94" stroke="#aaa" stroke-width="0.7"/><line x1="357.20" y1="490.16" x2="359.00" y2="490.16" stroke="#aaa" stroke-width="0.7"/><line x1="357.20" y1="482.37" x2="359.00" y2="482.37" stroke="#aaa" stroke-width="0.7"/><line x1="368.54" y1="521.30" x2="368.54" y2="523.10" stroke="#aaa" stroke-width="0.7"/><line x1="378.09" y1="521.30" x2="378.09" y2="523.10" stroke="#aaa" stroke-width="0.7"/><line x1="387.63" y1="521.30" x2="387.63" y2="523.10" stroke="#aaa" stroke-width="0.7"/><line x1="397.17" y1="521.30" x2="397.17" y2="523.10" stroke="#aaa" stroke-width="0.7"/>
<text x="380.94" y="486.00" font-size="9.2" font-weight="bold" font-style="normal" fill="#000" stroke="#000" stroke-width="0.3" textLength="19.52" lengthAdjust="spacingAndGlyphs">4.95</text>
<g clip-path="url(#c19)">
<ellipse cx="441.00" cy="103.00" rx="19.00" ry="9.00" transform="rotate(-10 441.00 103.00)" fill="rgb(222,222,222)" opacity="0.7" filter="url(#b0)"/>
<ellipse cx="440.00" cy="101.00" rx="16.00" ry="8.00" transform="rotate(-10 440.00 101.00)" fill="rgb(225,225,225)" opacity="0.6" filter="url(#b1)"/>
<ellipse cx="434.00" cy="114.00" rx="13.00" ry="4.50" transform="rotate(-8 434.00 114.00)" fill="rgb(125,125,125)" opacity="0.82" filter="url(#b2)"/>
<ellipse cx="448.60" cy="112.40" rx="4.00" ry="3.80" transform="rotate(0 448.60 112.40)" fill="rgb(10,10,10)" opacity="0.95" filter="url(#b9)"/>
</g>
<rect x="422.00" y="77.00" width="42.90" height="42.10" fill="none" stroke="#9a9a9a" stroke-width="1.0" />
<line x1="420.20" y1="109.95" x2="422.00" y2="109.95" stroke="#aaa" stroke-width="0.7"/><line x1="420.20" y1="100.80" x2="422.00" y2="100.80" stroke="#aaa" stroke-width="0.7"/><line x1="420.20" y1="91.64" x2="422.00" y2="91.64" stroke="#aaa" stroke-width="0.7"/><line x1="420.20" y1="82.49" x2="422.00" y2="82.49" stroke="#aaa" stroke-width="0.7"/><line x1="431.33" y1="119.10" x2="431.33" y2="120.90" stroke="#aaa" stroke-width="0.7"/><line x1="440.65" y1="119.10" x2="440.65" y2="120.90" stroke="#aaa" stroke-width="0.7"/><line x1="449.98" y1="119.10" x2="449.98" y2="120.90" stroke="#aaa" stroke-width="0.7"/><line x1="459.30" y1="119.10" x2="459.30" y2="120.90" stroke="#aaa" stroke-width="0.7"/>
<rect x="444.20" y="106.60" width="10.10" height="12.00" fill="none" stroke="#858585" stroke-width="0.95" />
<text x="426.04" y="85.50" font-size="9.2" font-weight="bold" font-style="normal" fill="#000" stroke="#000" stroke-width="0.3" textLength="19.32" lengthAdjust="spacingAndGlyphs">63%</text>
<g clip-path="url(#c20)">
<path d="M474.29 118.07 L474.50 117.92 L474.71 117.73 L474.92 117.49 L475.14 117.20 L475.35 116.85 L475.56 116.43 L475.77 115.92 L475.99 115.31 L476.20 114.59 L476.41 113.75 L476.62 112.78 L476.84 111.67 L477.05 110.41 L477.26 108.98 L477.47 107.40 L477.69 105.66 L477.90 103.77 L478.11 101.73 L478.32 99.58 L478.54 97.33 L478.75 95.02 L478.96 92.70 L479.17 90.41 L479.39 88.21 L479.60 86.17 L479.81 84.35 L480.02 82.84 L480.24 81.73 L480.45 81.14 L480.66 81.68 L480.87 83.55 L481.09 86.28 L481.30 89.55 L481.51 93.11 L481.72 96.72 L481.94 100.22 L482.15 103.47 L482.36 106.40 L482.57 108.94 L482.79 111.10 L483.00 112.88 L483.21 114.31 L483.42 115.44 L483.64 116.31 L483.85 116.97 L484.06 117.46 L484.27 117.82 L484.49 118.07" fill="none" stroke="#8a8a8a" stroke-width="0.9" stroke-linejoin="round"/>
<path d="M476.10 118.13 L476.46 117.99 L476.83 117.81 L477.19 117.59 L477.56 117.32 L477.92 116.98 L478.28 116.57 L478.65 116.08 L479.01 115.49 L479.38 114.79 L479.74 113.97 L480.10 113.02 L480.47 111.92 L480.83 110.68 L481.20 109.28 L481.56 107.73 L481.92 106.03 L482.29 104.19 L482.65 102.24 L483.01 100.18 L483.38 98.06 L483.74 95.92 L484.11 93.81 L484.47 91.78 L484.83 89.90 L485.20 88.25 L485.56 86.89 L485.93 85.93 L486.29 85.50 L486.65 86.20 L487.02 87.86 L487.38 90.16 L487.75 92.88 L488.11 95.82 L488.47 98.82 L488.84 101.75 L489.20 104.50 L489.57 107.01 L489.93 109.23 L490.29 111.16 L490.66 112.78 L491.02 114.12 L491.39 115.21 L491.75 116.07 L492.11 116.74 L492.48 117.25 L492.84 117.64 L493.21 117.92 L493.57 118.13" fill="none" stroke="#1a1a1a" stroke-width="1.0" stroke-linejoin="round"/>
</g>
<rect x="471.70" y="77.00" width="42.50" height="42.30" fill="none" stroke="#9a9a9a" stroke-width="1.0" />
<line x1="469.90" y1="111.75" x2="471.70" y2="111.75" stroke="#aaa" stroke-width="0.7"/><line x1="469.90" y1="104.19" x2="471.70" y2="104.19" stroke="#aaa" stroke-width="0.7"/><line x1="469.90" y1="96.64" x2="471.70" y2="96.64" stroke="#aaa" stroke-width="0.7"/><line x1="469.90" y1="89.09" x2="471.70" y2="89.09" stroke="#aaa" stroke-width="0.7"/><line x1="469.90" y1="81.53" x2="471.70" y2="81.53" stroke="#aaa" stroke-width="0.7"/><line x1="480.94" y1="119.30" x2="480.94" y2="121.10" stroke="#aaa" stroke-width="0.7"/><line x1="490.18" y1="119.30" x2="490.18" y2="121.10" stroke="#aaa" stroke-width="0.7"/><line x1="499.42" y1="119.30" x2="499.42" y2="121.10" stroke="#aaa" stroke-width="0.7"/><line x1="508.66" y1="119.30" x2="508.66" y2="121.10" stroke="#aaa" stroke-width="0.7"/>
<text x="498.14" y="85.50" font-size="9.2" font-weight="bold" font-style="normal" fill="#000" stroke="#000" stroke-width="0.3" textLength="13.62" lengthAdjust="spacingAndGlyphs">3.5</text>
<g clip-path="url(#c21)">
<ellipse cx="440.00" cy="150.00" rx="22.00" ry="9.00" transform="rotate(-42 440.00 150.00)" fill="rgb(222,222,222)" opacity="0.7" filter="url(#b0)"/>
<ellipse cx="440.00" cy="152.00" rx="19.00" ry="4.50" transform="rotate(-42 440.00 152.00)" fill="rgb(150,150,150)" opacity="0.7" filter="url(#b10)"/>
<ellipse cx="425.50" cy="165.00" rx="3.60" ry="3.60" transform="rotate(0 425.50 165.00)" fill="rgb(10,10,10)" opacity="0.95" filter="url(#b6)"/>
<ellipse cx="454.50" cy="139.50" rx="2.50" ry="4.80" transform="rotate(35 454.50 139.50)" fill="rgb(30,30,30)" opacity="0.9" filter="url(#b9)"/>
</g>
<rect x="422.00" y="125.80" width="42.90" height="43.00" fill="none" stroke="#9a9a9a" stroke-width="1.0" />
<line x1="420.20" y1="159.45" x2="422.00" y2="159.45" stroke="#aaa" stroke-width="0.7"/><line x1="420.20" y1="150.10" x2="422.00" y2="150.10" stroke="#aaa" stroke-width="0.7"/><line x1="420.20" y1="140.76" x2="422.00" y2="140.76" stroke="#aaa" stroke-width="0.7"/><line x1="420.20" y1="131.41" x2="422.00" y2="131.41" stroke="#aaa" stroke-width="0.7"/><line x1="431.33" y1="168.80" x2="431.33" y2="170.60" stroke="#aaa" stroke-width="0.7"/><line x1="440.65" y1="168.80" x2="440.65" y2="170.60" stroke="#aaa" stroke-width="0.7"/><line x1="449.98" y1="168.80" x2="449.98" y2="170.60" stroke="#aaa" stroke-width="0.7"/><line x1="459.30" y1="168.80" x2="459.30" y2="170.60" stroke="#aaa" stroke-width="0.7"/>
<rect x="449.20" y="133.20" width="10.10" height="12.80" fill="none" stroke="#858585" stroke-width="0.95" />
<text x="425.54" y="135.30" font-size="9.2" font-weight="bold" font-style="normal" fill="#000" stroke="#000" stroke-width="0.3" textLength="19.92" lengthAdjust="spacingAndGlyphs">15%</text>
<g clip-path="url(#c22)">
<path d="M474.46 167.05 L474.63 166.89 L474.81 166.69 L474.99 166.43 L475.16 166.12 L475.34 165.75 L475.51 165.29 L475.69 164.73 L475.87 164.07 L476.04 163.30 L476.22 162.38 L476.39 161.33 L476.57 160.11 L476.74 158.73 L476.92 157.18 L477.10 155.46 L477.27 153.56 L477.45 151.51 L477.62 149.31 L477.80 146.99 L477.98 144.58 L478.15 142.13 L478.33 139.68 L478.50 137.29 L478.68 135.03 L478.86 132.98 L479.03 131.21 L479.21 129.82 L479.38 128.93 L479.56 128.84 L479.73 130.21 L479.91 132.58 L480.09 135.64 L480.26 139.09 L480.44 142.72 L480.61 146.33 L480.79 149.77 L480.97 152.94 L481.14 155.77 L481.32 158.22 L481.49 160.29 L481.67 162.00 L481.84 163.38 L482.02 164.47 L482.20 165.32 L482.37 165.96 L482.55 166.44 L482.72 166.80 L482.90 167.05" fill="none" stroke="#8a8a8a" stroke-width="0.9" stroke-linejoin="round"/>
<path d="M479.26 167.09 L479.56 166.93 L479.87 166.74 L480.17 166.49 L480.48 166.19 L480.79 165.81 L481.09 165.35 L481.40 164.80 L481.70 164.14 L482.01 163.35 L482.31 162.43 L482.62 161.36 L482.92 160.13 L483.23 158.73 L483.53 157.16 L483.84 155.41 L484.14 153.51 L484.45 151.45 L484.75 149.26 L485.06 146.97 L485.36 144.63 L485.67 142.27 L485.98 139.96 L486.28 137.77 L486.59 135.77 L486.89 134.04 L487.20 132.69 L487.50 131.81 L487.81 131.73 L488.11 132.91 L488.42 134.94 L488.72 137.57 L489.03 140.56 L489.33 143.73 L489.64 146.93 L489.94 150.02 L490.25 152.90 L490.56 155.52 L490.86 157.83 L491.17 159.82 L491.47 161.51 L491.78 162.90 L492.08 164.03 L492.39 164.92 L492.69 165.62 L493.00 166.16 L493.30 166.57 L493.61 166.87 L493.91 167.09" fill="none" stroke="#1a1a1a" stroke-width="1.0" stroke-linejoin="round"/>
</g>
<rect x="471.40" y="125.60" width="41.80" height="42.70" fill="none" stroke="#9a9a9a" stroke-width="1.0" />
<line x1="469.60" y1="160.68" x2="471.40" y2="160.68" stroke="#aaa" stroke-width="0.7"/><line x1="469.60" y1="153.05" x2="471.40" y2="153.05" stroke="#aaa" stroke-width="0.7"/><line x1="469.60" y1="145.43" x2="471.40" y2="145.43" stroke="#aaa" stroke-width="0.7"/><line x1="469.60" y1="137.80" x2="471.40" y2="137.80" stroke="#aaa" stroke-width="0.7"/><line x1="469.60" y1="130.18" x2="471.40" y2="130.18" stroke="#aaa" stroke-width="0.7"/><line x1="480.49" y1="168.30" x2="480.49" y2="170.10" stroke="#aaa" stroke-width="0.7"/><line x1="489.57" y1="168.30" x2="489.57" y2="170.10" stroke="#aaa" stroke-width="0.7"/><line x1="498.66" y1="168.30" x2="498.66" y2="170.10" stroke="#aaa" stroke-width="0.7"/><line x1="507.75" y1="168.30" x2="507.75" y2="170.10" stroke="#aaa" stroke-width="0.7"/>
<text x="491.34" y="134.50" font-size="9.2" font-weight="bold" font-style="normal" fill="#000" stroke="#000" stroke-width="0.3" textLength="19.42" lengthAdjust="spacingAndGlyphs">5.76</text>
<g clip-path="url(#c23)">
<ellipse cx="440.00" cy="200.00" rx="22.00" ry="9.00" transform="rotate(-38 440.00 200.00)" fill="rgb(225,225,225)" opacity="0.7" filter="url(#b0)"/>
<ellipse cx="440.00" cy="205.00" rx="19.00" ry="4.00" transform="rotate(-38 440.00 205.00)" fill="rgb(195,195,195)" opacity="0.65" filter="url(#b7)"/>
<ellipse cx="425.00" cy="213.00" rx="3.80" ry="3.20" transform="rotate(0 425.00 213.00)" fill="rgb(15,15,15)" opacity="0.9" filter="url(#b6)"/>
<ellipse cx="453.50" cy="195.00" rx="2.50" ry="5.20" transform="rotate(35 453.50 195.00)" fill="rgb(35,35,35)" opacity="0.9" filter="url(#b3)"/>
</g>
<rect x="422.00" y="174.80" width="42.90" height="42.70" fill="none" stroke="#9a9a9a" stroke-width="1.0" />
<line x1="420.20" y1="208.22" x2="422.00" y2="208.22" stroke="#aaa" stroke-width="0.7"/><line x1="420.20" y1="198.93" x2="422.00" y2="198.93" stroke="#aaa" stroke-width="0.7"/><line x1="420.20" y1="189.65" x2="422.00" y2="189.65" stroke="#aaa" stroke-width="0.7"/><line x1="420.20" y1="180.37" x2="422.00" y2="180.37" stroke="#aaa" stroke-width="0.7"/><line x1="431.33" y1="217.50" x2="431.33" y2="219.30" stroke="#aaa" stroke-width="0.7"/><line x1="440.65" y1="217.50" x2="440.65" y2="219.30" stroke="#aaa" stroke-width="0.7"/><line x1="449.98" y1="217.50" x2="449.98" y2="219.30" stroke="#aaa" stroke-width="0.7"/><line x1="459.30" y1="217.50" x2="459.30" y2="219.30" stroke="#aaa" stroke-width="0.7"/>
<rect x="447.20" y="187.30" width="12.10" height="14.50" fill="none" stroke="#858585" stroke-width="0.95" />
<text x="425.54" y="184.30" font-size="9.2" font-weight="bold" font-style="normal" fill="#000" stroke="#000" stroke-width="0.3" textLength="18.92" lengthAdjust="spacingAndGlyphs">31%</text>
<g clip-path="url(#c24)">
<path d="M475.67 216.06 L475.82 215.86 L475.97 215.61 L476.12 215.28 L476.27 214.86 L476.42 214.33 L476.57 213.67 L476.73 212.86 L476.88 211.87 L477.03 210.68 L477.18 209.28 L477.33 207.64 L477.48 205.77 L477.63 203.65 L477.79 201.29 L477.94 198.73 L478.09 195.99 L478.24 193.14 L478.39 190.24 L478.54 187.39 L478.69 184.69 L478.85 182.26 L479.00 180.26 L479.15 178.82 L479.30 178.20 L479.45 178.82 L479.60 180.26 L479.75 182.26 L479.91 184.69 L480.06 187.39 L480.21 190.24 L480.36 193.14 L480.51 195.99 L480.66 198.73 L480.81 201.29 L480.97 203.65 L481.12 205.77 L481.27 207.64 L481.42 209.28 L481.57 210.68 L481.72 211.87 L481.87 212.86 L482.03 213.67 L482.18 214.33 L482.33 214.86 L482.48 215.28 L482.63 215.61 L482.78 215.86 L482.93 216.06" fill="none" stroke="#8a8a8a" stroke-width="0.9" stroke-linejoin="round"/>
<path d="M472 216.6 L474.3 216.4 L477.6 215.0 L481 209.5 L483.9 204.6 L486 198.5 L487.7 193.6 L489.3 198 L491 205 L493 215.6 L495 216.6 L500 216.6" fill="none" stroke="#000" stroke-width="1.8" stroke-linejoin="round"/>
</g>
<rect x="471.40" y="174.80" width="41.80" height="42.50" fill="none" stroke="#9a9a9a" stroke-width="1.0" />
<line x1="469.60" y1="209.71" x2="471.40" y2="209.71" stroke="#aaa" stroke-width="0.7"/><line x1="469.60" y1="202.12" x2="471.40" y2="202.12" stroke="#aaa" stroke-width="0.7"/><line x1="469.60" y1="194.53" x2="471.40" y2="194.53" stroke="#aaa" stroke-width="0.7"/><line x1="469.60" y1="186.94" x2="471.40" y2="186.94" stroke="#aaa" stroke-width="0.7"/><line x1="469.60" y1="179.35" x2="471.40" y2="179.35" stroke="#aaa" stroke-width="0.7"/><line x1="480.49" y1="217.30" x2="480.49" y2="219.10" stroke="#aaa" stroke-width="0.7"/><line x1="489.57" y1="217.30" x2="489.57" y2="219.10" stroke="#aaa" stroke-width="0.7"/><line x1="498.66" y1="217.30" x2="498.66" y2="219.10" stroke="#aaa" stroke-width="0.7"/><line x1="507.75" y1="217.30" x2="507.75" y2="219.10" stroke="#aaa" stroke-width="0.7"/>
<text x="491.34" y="183.50" font-size="9.2" font-weight="bold" font-style="normal" fill="#000" stroke="#000" stroke-width="0.3" textLength="19.42" lengthAdjust="spacingAndGlyphs">4.83</text>
<g clip-path="url(#c25)">
<ellipse cx="440.00" cy="326.00" rx="18.00" ry="10.00" transform="rotate(-30 440.00 326.00)" fill="rgb(220,220,220)" opacity="0.7" filter="url(#b0)"/>
<ellipse cx="437.00" cy="334.00" rx="14.00" ry="5.00" transform="rotate(-20 437.00 334.00)" fill="rgb(165,165,165)" opacity="0.75" filter="url(#b5)"/>
<ellipse cx="432.00" cy="337.50" rx="9.00" ry="3.80" transform="rotate(-22 432.00 337.50)" fill="rgb(125,125,125)" opacity="0.7" filter="url(#b2)"/>
<ellipse cx="451.00" cy="320.00" rx="2.20" ry="9.00" transform="rotate(0 451.00 320.00)" fill="rgb(195,195,195)" opacity="0.5" filter="url(#b4)"/>
<ellipse cx="451.30" cy="337.00" rx="3.60" ry="4.20" transform="rotate(0 451.30 337.00)" fill="rgb(10,10,10)" opacity="0.95" filter="url(#b3)"/>
</g>
<rect x="423.50" y="300.30" width="43.40" height="43.30" fill="none" stroke="#9a9a9a" stroke-width="1.0" />
<line x1="421.70" y1="334.19" x2="423.50" y2="334.19" stroke="#aaa" stroke-width="0.7"/><line x1="421.70" y1="324.77" x2="423.50" y2="324.77" stroke="#aaa" stroke-width="0.7"/><line x1="421.70" y1="315.36" x2="423.50" y2="315.36" stroke="#aaa" stroke-width="0.7"/><line x1="421.70" y1="305.95" x2="423.50" y2="305.95" stroke="#aaa" stroke-width="0.7"/><line x1="432.93" y1="343.60" x2="432.93" y2="345.40" stroke="#aaa" stroke-width="0.7"/><line x1="442.37" y1="343.60" x2="442.37" y2="345.40" stroke="#aaa" stroke-width="0.7"/><line x1="451.80" y1="343.60" x2="451.80" y2="345.40" stroke="#aaa" stroke-width="0.7"/><line x1="461.24" y1="343.60" x2="461.24" y2="345.40" stroke="#aaa" stroke-width="0.7"/>
<rect x="445.50" y="331.10" width="11.00" height="12.50" fill="none" stroke="#858585" stroke-width="0.95" />
<text x="428.04" y="310.40" font-size="9.2" font-weight="bold" font-style="normal" fill="#000" stroke="#000" stroke-width="0.3" textLength="27.02" lengthAdjust="spacingAndGlyphs">60.6%</text>
<g clip-path="url(#c26)">
<path d="M478.27 342.95 L478.47 342.82 L478.67 342.65 L478.87 342.44 L479.07 342.18 L479.27 341.86 L479.47 341.48 L479.67 341.01 L479.87 340.45 L480.07 339.79 L480.28 339.01 L480.48 338.11 L480.68 337.08 L480.88 335.90 L481.08 334.58 L481.28 333.12 L481.48 331.51 L481.68 329.77 L481.88 327.91 L482.08 325.97 L482.28 323.96 L482.48 321.93 L482.68 319.92 L482.88 317.99 L483.08 316.19 L483.28 314.60 L483.48 313.30 L483.68 312.36 L483.88 311.91 L484.08 312.49 L484.28 314.03 L484.48 316.19 L484.68 318.77 L484.88 321.57 L485.08 324.43 L485.28 327.24 L485.48 329.87 L485.68 332.28 L485.88 334.42 L486.08 336.26 L486.28 337.82 L486.48 339.11 L486.68 340.15 L486.88 340.98 L487.09 341.62 L487.29 342.11 L487.49 342.48 L487.69 342.76 L487.89 342.95" fill="none" stroke="#8a8a8a" stroke-width="0.9" stroke-linejoin="round"/>
<path d="M482.57 342.85 L482.89 342.69 L483.21 342.49 L483.52 342.23 L483.84 341.92 L484.16 341.54 L484.48 341.07 L484.80 340.51 L485.11 339.84 L485.43 339.05 L485.75 338.13 L486.07 337.05 L486.38 335.82 L486.70 334.42 L487.02 332.84 L487.34 331.09 L487.65 329.17 L487.97 327.09 L488.29 324.86 L488.61 322.52 L488.92 320.10 L489.24 317.63 L489.56 315.18 L489.88 312.80 L490.19 310.57 L490.51 308.56 L490.83 306.86 L491.15 305.57 L491.46 304.81 L491.78 305.04 L492.10 306.64 L492.42 309.14 L492.73 312.24 L493.05 315.68 L493.37 319.26 L493.69 322.79 L494.00 326.14 L494.32 329.21 L494.64 331.94 L494.96 334.31 L495.27 336.31 L495.59 337.96 L495.91 339.29 L496.23 340.35 L496.54 341.17 L496.86 341.79 L497.18 342.26 L497.50 342.60 L497.81 342.85" fill="none" stroke="#1a1a1a" stroke-width="1.0" stroke-linejoin="round"/>
</g>
<rect x="474.30" y="300.30" width="43.30" height="43.80" fill="none" stroke="#9a9a9a" stroke-width="1.0" />
<line x1="472.50" y1="336.28" x2="474.30" y2="336.28" stroke="#aaa" stroke-width="0.7"/><line x1="472.50" y1="328.46" x2="474.30" y2="328.46" stroke="#aaa" stroke-width="0.7"/><line x1="472.50" y1="320.64" x2="474.30" y2="320.64" stroke="#aaa" stroke-width="0.7"/><line x1="472.50" y1="312.81" x2="474.30" y2="312.81" stroke="#aaa" stroke-width="0.7"/><line x1="472.50" y1="304.99" x2="474.30" y2="304.99" stroke="#aaa" stroke-width="0.7"/><line x1="483.71" y1="344.10" x2="483.71" y2="345.90" stroke="#aaa" stroke-width="0.7"/><line x1="493.13" y1="344.10" x2="493.13" y2="345.90" stroke="#aaa" stroke-width="0.7"/><line x1="502.54" y1="344.10" x2="502.54" y2="345.90" stroke="#aaa" stroke-width="0.7"/><line x1="511.95" y1="344.10" x2="511.95" y2="345.90" stroke="#aaa" stroke-width="0.7"/>
<text x="494.74" y="310.00" font-size="9.2" font-weight="bold" font-style="normal" fill="#000" stroke="#000" stroke-width="0.3" textLength="19.52" lengthAdjust="spacingAndGlyphs">4.74</text>
<g clip-path="url(#c27)">
<ellipse cx="442.00" cy="378.00" rx="22.00" ry="14.00" transform="rotate(-40 442.00 378.00)" fill="rgb(215,215,215)" opacity="0.7" filter="url(#b0)"/>
<ellipse cx="440.00" cy="380.00" rx="19.00" ry="7.00" transform="rotate(-40 440.00 380.00)" fill="rgb(205,205,205)" opacity="0.6" filter="url(#b1)"/>
<ellipse cx="426.00" cy="393.00" rx="3.60" ry="3.60" transform="rotate(0 426.00 393.00)" fill="rgb(12,12,12)" opacity="0.95" filter="url(#b6)"/>
<ellipse cx="453.00" cy="366.00" rx="6.50" ry="6.50" transform="rotate(0 453.00 366.00)" fill="rgb(110,110,110)" opacity="0.8" filter="url(#b5)"/>
<ellipse cx="454.00" cy="367.00" rx="2.80" ry="2.80" transform="rotate(0 454.00 367.00)" fill="rgb(30,30,30)" opacity="0.95" filter="url(#b3)"/>
</g>
<rect x="423.50" y="352.50" width="43.40" height="44.50" fill="none" stroke="#9a9a9a" stroke-width="1.0" />
<line x1="421.70" y1="387.33" x2="423.50" y2="387.33" stroke="#aaa" stroke-width="0.7"/><line x1="421.70" y1="377.65" x2="423.50" y2="377.65" stroke="#aaa" stroke-width="0.7"/><line x1="421.70" y1="367.98" x2="423.50" y2="367.98" stroke="#aaa" stroke-width="0.7"/><line x1="421.70" y1="358.30" x2="423.50" y2="358.30" stroke="#aaa" stroke-width="0.7"/><line x1="432.93" y1="397.00" x2="432.93" y2="398.80" stroke="#aaa" stroke-width="0.7"/><line x1="442.37" y1="397.00" x2="442.37" y2="398.80" stroke="#aaa" stroke-width="0.7"/><line x1="451.80" y1="397.00" x2="451.80" y2="398.80" stroke="#aaa" stroke-width="0.7"/><line x1="461.24" y1="397.00" x2="461.24" y2="398.80" stroke="#aaa" stroke-width="0.7"/>
<rect x="446.40" y="357.80" width="14.80" height="17.10" fill="none" stroke="#858585" stroke-width="0.95" />
<text x="427.34" y="362.80" font-size="9.2" font-weight="bold" font-style="normal" fill="#000" stroke="#000" stroke-width="0.3" textLength="19.52" lengthAdjust="spacingAndGlyphs">41%</text>
<g clip-path="url(#c28)">
<path d="M476.37 395.41 L476.57 395.27 L476.77 395.08 L476.97 394.85 L477.17 394.57 L477.37 394.22 L477.57 393.80 L477.77 393.29 L477.97 392.68 L478.17 391.96 L478.38 391.11 L478.58 390.13 L478.78 389.00 L478.98 387.71 L479.18 386.27 L479.38 384.67 L479.58 382.91 L479.78 381.01 L479.98 378.99 L480.18 376.86 L480.38 374.67 L480.58 372.45 L480.78 370.25 L480.98 368.15 L481.18 366.19 L481.38 364.45 L481.58 363.03 L481.78 362.00 L481.98 361.51 L482.18 362.15 L482.38 363.82 L482.58 366.19 L482.78 369.00 L482.98 372.06 L483.18 375.19 L483.38 378.25 L483.58 381.13 L483.78 383.76 L483.98 386.09 L484.18 388.11 L484.38 389.81 L484.58 391.21 L484.78 392.35 L484.98 393.26 L485.19 393.96 L485.39 394.50 L485.59 394.90 L485.79 395.20 L485.99 395.41" fill="none" stroke="#8a8a8a" stroke-width="0.9" stroke-linejoin="round"/>
<path d="M479.62 395.33 L479.98 395.16 L480.34 394.94 L480.69 394.67 L481.05 394.34 L481.41 393.93 L481.77 393.43 L482.13 392.83 L482.49 392.11 L482.85 391.26 L483.21 390.27 L483.57 389.11 L483.93 387.78 L484.28 386.27 L484.64 384.58 L485.00 382.69 L485.36 380.63 L485.72 378.39 L486.08 376.01 L486.44 373.51 L486.80 370.93 L487.16 368.33 L487.52 365.75 L487.88 363.27 L488.23 360.98 L488.59 358.94 L488.95 357.27 L489.31 356.07 L489.67 355.51 L490.03 356.28 L490.39 358.26 L490.75 361.05 L491.11 364.35 L491.47 367.94 L491.83 371.62 L492.18 375.20 L492.54 378.58 L492.90 381.67 L493.26 384.40 L493.62 386.76 L493.98 388.76 L494.34 390.41 L494.70 391.74 L495.06 392.80 L495.42 393.62 L495.77 394.25 L496.13 394.72 L496.49 395.07 L496.85 395.33" fill="none" stroke="#1a1a1a" stroke-width="1.0" stroke-linejoin="round"/>
</g>
<rect x="474.30" y="352.80" width="43.30" height="43.80" fill="none" stroke="#9a9a9a" stroke-width="1.0" />
<line x1="472.50" y1="388.78" x2="474.30" y2="388.78" stroke="#aaa" stroke-width="0.7"/><line x1="472.50" y1="380.96" x2="474.30" y2="380.96" stroke="#aaa" stroke-width="0.7"/><line x1="472.50" y1="373.14" x2="474.30" y2="373.14" stroke="#aaa" stroke-width="0.7"/><line x1="472.50" y1="365.31" x2="474.30" y2="365.31" stroke="#aaa" stroke-width="0.7"/><line x1="472.50" y1="357.49" x2="474.30" y2="357.49" stroke="#aaa" stroke-width="0.7"/><line x1="483.71" y1="396.60" x2="483.71" y2="398.40" stroke="#aaa" stroke-width="0.7"/><line x1="493.13" y1="396.60" x2="493.13" y2="398.40" stroke="#aaa" stroke-width="0.7"/><line x1="502.54" y1="396.60" x2="502.54" y2="398.40" stroke="#aaa" stroke-width="0.7"/><line x1="511.95" y1="396.60" x2="511.95" y2="398.40" stroke="#aaa" stroke-width="0.7"/>
<text x="494.74" y="361.30" font-size="9.2" font-weight="bold" font-style="normal" fill="#000" stroke="#000" stroke-width="0.3" textLength="19.52" lengthAdjust="spacingAndGlyphs">4.53</text>
<g clip-path="url(#c29)">
<ellipse cx="440.00" cy="455.00" rx="18.00" ry="9.00" transform="rotate(0 440.00 455.00)" fill="rgb(228,228,228)" opacity="0.7" filter="url(#b0)"/>
<ellipse cx="437.00" cy="465.00" rx="14.00" ry="3.80" transform="rotate(0 437.00 465.00)" fill="rgb(140,140,140)" opacity="0.8" filter="url(#b5)"/>
<ellipse cx="427.00" cy="466.00" rx="4.20" ry="3.20" transform="rotate(0 427.00 466.00)" fill="rgb(55,55,55)" opacity="0.85" filter="url(#b3)"/>
<ellipse cx="452.00" cy="450.00" rx="2.00" ry="8.00" transform="rotate(0 452.00 450.00)" fill="rgb(170,170,170)" opacity="0.5" filter="url(#b4)"/>
<ellipse cx="451.50" cy="465.00" rx="4.20" ry="3.80" transform="rotate(0 451.50 465.00)" fill="rgb(12,12,12)" opacity="0.95" filter="url(#b9)"/>
</g>
<rect x="423.50" y="427.50" width="43.40" height="43.80" fill="none" stroke="#9a9a9a" stroke-width="1.0" />
<line x1="421.70" y1="461.78" x2="423.50" y2="461.78" stroke="#aaa" stroke-width="0.7"/><line x1="421.70" y1="452.26" x2="423.50" y2="452.26" stroke="#aaa" stroke-width="0.7"/><line x1="421.70" y1="442.73" x2="423.50" y2="442.73" stroke="#aaa" stroke-width="0.7"/><line x1="421.70" y1="433.21" x2="423.50" y2="433.21" stroke="#aaa" stroke-width="0.7"/><line x1="432.93" y1="471.30" x2="432.93" y2="473.10" stroke="#aaa" stroke-width="0.7"/><line x1="442.37" y1="471.30" x2="442.37" y2="473.10" stroke="#aaa" stroke-width="0.7"/><line x1="451.80" y1="471.30" x2="451.80" y2="473.10" stroke="#aaa" stroke-width="0.7"/><line x1="461.24" y1="471.30" x2="461.24" y2="473.10" stroke="#aaa" stroke-width="0.7"/>
<rect x="445.00" y="457.70" width="12.20" height="13.40" fill="none" stroke="#858585" stroke-width="0.95" />
<text x="425.74" y="437.50" font-size="9.2" font-weight="bold" font-style="normal" fill="#000" stroke="#000" stroke-width="0.3" textLength="28.02" lengthAdjust="spacingAndGlyphs">50.7%</text>
<g clip-path="url(#c30)">
<path d="M476.11 469.93 L476.37 469.80 L476.63 469.62 L476.89 469.41 L477.15 469.15 L477.41 468.82 L477.67 468.43 L477.93 467.96 L478.19 467.39 L478.44 466.73 L478.70 465.95 L478.96 465.04 L479.22 464.00 L479.48 462.82 L479.74 461.49 L480.00 460.02 L480.26 458.40 L480.52 456.64 L480.77 454.76 L481.03 452.78 L481.29 450.73 L481.55 448.64 L481.81 446.56 L482.07 444.54 L482.33 442.64 L482.59 440.92 L482.85 439.46 L483.10 438.32 L483.36 437.63 L483.62 437.71 L483.88 438.99 L484.14 441.07 L484.40 443.68 L484.66 446.61 L484.92 449.67 L485.18 452.69 L485.43 455.56 L485.69 458.20 L485.95 460.55 L486.21 462.59 L486.47 464.31 L486.73 465.73 L486.99 466.88 L487.25 467.79 L487.51 468.49 L487.76 469.03 L488.02 469.43 L488.28 469.72 L488.54 469.93" fill="none" stroke="#8a8a8a" stroke-width="0.9" stroke-linejoin="round"/>
<path d="M481.93 469.83 L482.21 469.64 L482.49 469.40 L482.77 469.09 L483.05 468.71 L483.34 468.23 L483.62 467.64 L483.90 466.92 L484.18 466.05 L484.46 465.01 L484.74 463.79 L485.02 462.37 L485.30 460.74 L485.58 458.88 L485.86 456.81 L486.14 454.53 L486.43 452.05 L486.71 449.41 L486.99 446.65 L487.27 443.82 L487.55 441.01 L487.83 438.29 L488.11 435.75 L488.39 433.52 L488.67 431.71 L488.95 430.46 L489.23 430.02 L489.52 430.92 L489.80 432.74 L490.08 435.22 L490.36 438.14 L490.64 441.32 L490.92 444.62 L491.20 447.91 L491.48 451.07 L491.76 454.03 L492.04 456.73 L492.32 459.14 L492.60 461.25 L492.89 463.07 L493.17 464.60 L493.45 465.87 L493.73 466.90 L494.01 467.73 L494.29 468.39 L494.57 468.91 L494.85 469.30 L495.13 469.60 L495.41 469.83" fill="none" stroke="#1a1a1a" stroke-width="1.0" stroke-linejoin="round"/>
</g>
<rect x="474.00" y="427.70" width="43.90" height="43.40" fill="none" stroke="#9a9a9a" stroke-width="1.0" />
<line x1="472.20" y1="463.35" x2="474.00" y2="463.35" stroke="#aaa" stroke-width="0.7"/><line x1="472.20" y1="455.60" x2="474.00" y2="455.60" stroke="#aaa" stroke-width="0.7"/><line x1="472.20" y1="447.85" x2="474.00" y2="447.85" stroke="#aaa" stroke-width="0.7"/><line x1="472.20" y1="440.10" x2="474.00" y2="440.10" stroke="#aaa" stroke-width="0.7"/><line x1="472.20" y1="432.35" x2="474.00" y2="432.35" stroke="#aaa" stroke-width="0.7"/><line x1="483.54" y1="471.10" x2="483.54" y2="472.90" stroke="#aaa" stroke-width="0.7"/><line x1="493.09" y1="471.10" x2="493.09" y2="472.90" stroke="#aaa" stroke-width="0.7"/><line x1="502.63" y1="471.10" x2="502.63" y2="472.90" stroke="#aaa" stroke-width="0.7"/><line x1="512.17" y1="471.10" x2="512.17" y2="472.90" stroke="#aaa" stroke-width="0.7"/>
<text x="494.74" y="436.00" font-size="9.2" font-weight="bold" font-style="normal" fill="#000" stroke="#000" stroke-width="0.3" textLength="19.52" lengthAdjust="spacingAndGlyphs">3.18</text>
<g clip-path="url(#c31)">
<ellipse cx="440.00" cy="502.00" rx="22.00" ry="9.00" transform="rotate(-42 440.00 502.00)" fill="rgb(215,215,215)" opacity="0.7" filter="url(#b0)"/>
<ellipse cx="438.00" cy="506.00" rx="19.00" ry="4.50" transform="rotate(-42 438.00 506.00)" fill="rgb(185,185,185)" opacity="0.65" filter="url(#b7)"/>
<ellipse cx="426.00" cy="518.00" rx="3.80" ry="3.20" transform="rotate(0 426.00 518.00)" fill="rgb(20,20,20)" opacity="0.9" filter="url(#b6)"/>
<ellipse cx="454.00" cy="492.00" rx="2.80" ry="7.50" transform="rotate(30 454.00 492.00)" fill="rgb(35,35,35)" opacity="0.9" filter="url(#b11)"/>
</g>
<rect x="423.50" y="477.60" width="43.40" height="43.60" fill="none" stroke="#9a9a9a" stroke-width="1.0" />
<line x1="421.70" y1="511.72" x2="423.50" y2="511.72" stroke="#aaa" stroke-width="0.7"/><line x1="421.70" y1="502.24" x2="423.50" y2="502.24" stroke="#aaa" stroke-width="0.7"/><line x1="421.70" y1="492.77" x2="423.50" y2="492.77" stroke="#aaa" stroke-width="0.7"/><line x1="421.70" y1="483.29" x2="423.50" y2="483.29" stroke="#aaa" stroke-width="0.7"/><line x1="432.93" y1="521.20" x2="432.93" y2="523.00" stroke="#aaa" stroke-width="0.7"/><line x1="442.37" y1="521.20" x2="442.37" y2="523.00" stroke="#aaa" stroke-width="0.7"/><line x1="451.80" y1="521.20" x2="451.80" y2="523.00" stroke="#aaa" stroke-width="0.7"/><line x1="461.24" y1="521.20" x2="461.24" y2="523.00" stroke="#aaa" stroke-width="0.7"/>
<rect x="447.40" y="484.80" width="13.80" height="17.60" fill="none" stroke="#858585" stroke-width="0.95" />
<text x="425.74" y="486.90" font-size="9.2" font-weight="bold" font-style="normal" fill="#000" stroke="#000" stroke-width="0.3" textLength="28.42" lengthAdjust="spacingAndGlyphs">50.3%</text>
<g clip-path="url(#c32)">
<path d="M478.38 519.33 L478.56 519.15 L478.75 518.91 L478.94 518.61 L479.13 518.24 L479.32 517.78 L479.50 517.20 L479.69 516.51 L479.88 515.67 L480.07 514.67 L480.26 513.49 L480.44 512.12 L480.63 510.55 L480.82 508.76 L481.01 506.76 L481.20 504.55 L481.39 502.15 L481.57 499.59 L481.76 496.90 L481.95 494.14 L482.14 491.37 L482.33 488.67 L482.51 486.13 L482.70 483.85 L482.89 481.95 L483.08 480.55 L483.27 479.83 L483.45 480.34 L483.64 481.95 L483.83 484.28 L484.02 487.12 L484.21 490.28 L484.39 493.58 L484.58 496.90 L484.77 500.11 L484.96 503.13 L485.15 505.90 L485.33 508.38 L485.52 510.55 L485.71 512.41 L485.90 513.98 L486.09 515.29 L486.28 516.35 L486.46 517.20 L486.65 517.88 L486.84 518.40 L487.03 518.80 L487.22 519.11 L487.40 519.33" fill="none" stroke="#8a8a8a" stroke-width="0.9" stroke-linejoin="round"/>
<path d="M477.51 519.55 L477.94 519.43 L478.36 519.28 L478.78 519.09 L479.20 518.84 L479.63 518.54 L480.05 518.16 L480.47 517.71 L480.89 517.15 L481.32 516.49 L481.74 515.71 L482.16 514.81 L482.58 513.76 L483.01 512.58 L483.43 511.26 L483.85 509.81 L484.27 508.24 L484.70 506.57 L485.12 504.83 L485.54 503.06 L485.96 501.31 L486.39 499.64 L486.81 498.11 L487.23 496.78 L487.66 495.75 L488.08 495.12 L488.50 495.12 L488.92 495.88 L489.35 497.13 L489.77 498.73 L490.19 500.56 L490.61 502.52 L491.04 504.53 L491.46 506.50 L491.88 508.40 L492.30 510.16 L492.73 511.77 L493.15 513.20 L493.57 514.45 L493.99 515.52 L494.42 516.43 L494.84 517.18 L495.26 517.80 L495.68 518.29 L496.11 518.69 L496.53 518.99 L496.95 519.23 L497.37 519.41 L497.80 519.55" fill="none" stroke="#1a1a1a" stroke-width="2.0" stroke-linejoin="round"/>
</g>
<rect x="474.30" y="477.70" width="43.60" height="42.90" fill="none" stroke="#9a9a9a" stroke-width="1.0" />
<line x1="472.50" y1="512.94" x2="474.30" y2="512.94" stroke="#aaa" stroke-width="0.7"/><line x1="472.50" y1="505.28" x2="474.30" y2="505.28" stroke="#aaa" stroke-width="0.7"/><line x1="472.50" y1="497.62" x2="474.30" y2="497.62" stroke="#aaa" stroke-width="0.7"/><line x1="472.50" y1="489.96" x2="474.30" y2="489.96" stroke="#aaa" stroke-width="0.7"/><line x1="472.50" y1="482.30" x2="474.30" y2="482.30" stroke="#aaa" stroke-width="0.7"/><line x1="483.78" y1="520.60" x2="483.78" y2="522.40" stroke="#aaa" stroke-width="0.7"/><line x1="493.26" y1="520.60" x2="493.26" y2="522.40" stroke="#aaa" stroke-width="0.7"/><line x1="502.73" y1="520.60" x2="502.73" y2="522.40" stroke="#aaa" stroke-width="0.7"/><line x1="512.21" y1="520.60" x2="512.21" y2="522.40" stroke="#aaa" stroke-width="0.7"/>
<text x="494.74" y="485.70" font-size="9.2" font-weight="bold" font-style="normal" fill="#000" stroke="#000" stroke-width="0.3" textLength="19.52" lengthAdjust="spacingAndGlyphs">4.12</text>
</svg>
</body></html>
